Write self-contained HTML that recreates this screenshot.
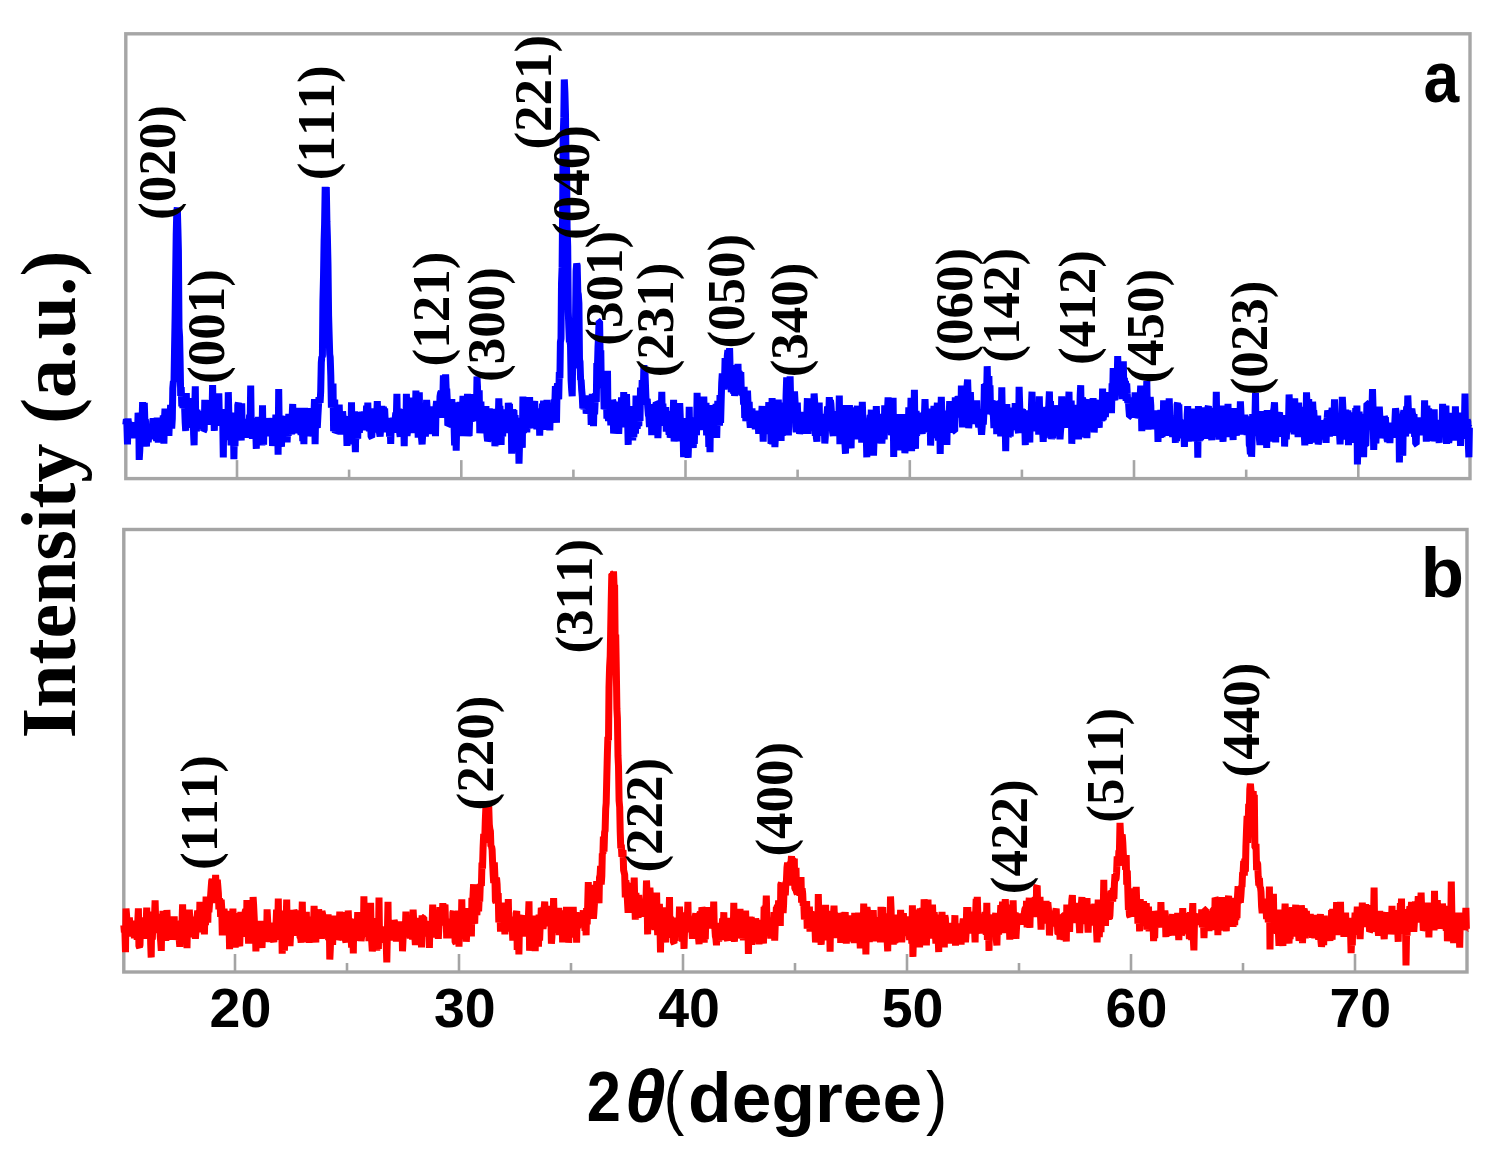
<!DOCTYPE html>
<html><head><meta charset="utf-8"><title>XRD patterns</title>
<style>html,body{margin:0;padding:0;background:#fff;width:1495px;height:1151px;overflow:hidden}svg{display:block;filter:blur(0.5px)}text{font-kerning:none;font-feature-settings:"kern" 0}</style>
</head><body>
<svg width="1495" height="1151" viewBox="0 0 1495 1151">
<style>.pl{font-kerning:none;font-feature-settings:"kern" 0;font-family:"Liberation Serif",serif;font-weight:bold;font-size:53.0px;fill:#000}</style>
<rect width="100%" height="100%" fill="#fff"/>
<rect x="125.8" y="33.8" width="1344.2" height="444.8" fill="none" stroke="#a6a6a6" stroke-width="3.4"/>
<line x1="237.0" y1="478.6" x2="237.0" y2="460.1" stroke="#a6a6a6" stroke-width="2.6"/>
<line x1="349.1" y1="478.6" x2="349.1" y2="469.6" stroke="#a6a6a6" stroke-width="2.6"/>
<line x1="461.3" y1="478.6" x2="461.3" y2="460.1" stroke="#a6a6a6" stroke-width="2.6"/>
<line x1="573.4" y1="478.6" x2="573.4" y2="469.6" stroke="#a6a6a6" stroke-width="2.6"/>
<line x1="685.5" y1="478.6" x2="685.5" y2="460.1" stroke="#a6a6a6" stroke-width="2.6"/>
<line x1="797.6" y1="478.6" x2="797.6" y2="469.6" stroke="#a6a6a6" stroke-width="2.6"/>
<line x1="909.8" y1="478.6" x2="909.8" y2="460.1" stroke="#a6a6a6" stroke-width="2.6"/>
<line x1="1021.9" y1="478.6" x2="1021.9" y2="469.6" stroke="#a6a6a6" stroke-width="2.6"/>
<line x1="1134.0" y1="478.6" x2="1134.0" y2="460.1" stroke="#a6a6a6" stroke-width="2.6"/>
<line x1="1246.2" y1="478.6" x2="1246.2" y2="469.6" stroke="#a6a6a6" stroke-width="2.6"/>
<line x1="1358.3" y1="478.6" x2="1358.3" y2="460.1" stroke="#a6a6a6" stroke-width="2.6"/>
<rect x="123.8" y="529.5" width="1343.2" height="442.5" fill="none" stroke="#a4a4a4" stroke-width="3.4"/>
<line x1="235.0" y1="972.0" x2="235.0" y2="954.0" stroke="#a4a4a4" stroke-width="2.6"/>
<line x1="347.0" y1="972.0" x2="347.0" y2="963.0" stroke="#a4a4a4" stroke-width="2.6"/>
<line x1="459.0" y1="972.0" x2="459.0" y2="954.0" stroke="#a4a4a4" stroke-width="2.6"/>
<line x1="571.0" y1="972.0" x2="571.0" y2="963.0" stroke="#a4a4a4" stroke-width="2.6"/>
<line x1="683.0" y1="972.0" x2="683.0" y2="954.0" stroke="#a4a4a4" stroke-width="2.6"/>
<line x1="795.0" y1="972.0" x2="795.0" y2="963.0" stroke="#a4a4a4" stroke-width="2.6"/>
<line x1="907.0" y1="972.0" x2="907.0" y2="954.0" stroke="#a4a4a4" stroke-width="2.6"/>
<line x1="1019.0" y1="972.0" x2="1019.0" y2="963.0" stroke="#a4a4a4" stroke-width="2.6"/>
<line x1="1131.0" y1="972.0" x2="1131.0" y2="954.0" stroke="#a4a4a4" stroke-width="2.6"/>
<line x1="1243.0" y1="972.0" x2="1243.0" y2="963.0" stroke="#a4a4a4" stroke-width="2.6"/>
<line x1="1355.0" y1="972.0" x2="1355.0" y2="954.0" stroke="#a4a4a4" stroke-width="2.6"/>
<path d="M125.8 424.7L126.4 419.2L126.9 425.1L127.5 444.5L128.0 418.6L128.6 424.1L129.2 435.8L129.7 422.6L130.3 425.2L130.8 426.1L131.4 429.2L132.0 423.1L132.5 438.2L133.1 431.3L133.6 435.0L134.2 422.2L134.8 428.7L135.3 432.4L135.9 438.1L136.4 431.7L137.0 428.4L137.6 431.6L138.1 412.9L138.7 416.1L139.2 459.9L139.8 450.0L140.4 429.6L140.9 432.4L141.5 424.8L142.0 424.6L142.6 402.1L143.2 440.2L143.7 431.5L144.3 402.9L144.8 419.4L145.4 419.3L146.0 433.2L146.5 446.7L147.1 425.4L147.6 426.2L148.2 442.2L148.8 435.9L149.3 428.8L149.9 439.3L150.4 429.5L151.0 427.3L151.6 428.2L152.1 434.7L152.7 421.8L153.2 418.4L153.8 425.1L154.4 438.6L154.9 420.2L155.5 434.7L156.0 418.3L156.6 441.2L157.2 417.6L157.7 428.4L158.3 442.7L158.8 431.3L159.4 426.7L160.0 423.8L160.5 438.2L161.1 439.3L161.6 423.5L162.2 430.9L162.8 422.2L163.3 415.6L163.9 443.6L164.4 420.6L165.0 408.7L165.6 426.1L166.1 431.6L166.7 412.6L167.2 417.8L167.8 409.5L168.4 423.4L168.9 435.8L169.5 418.5L170.0 421.1L170.6 405.0L171.2 409.8L171.7 428.4L172.3 419.1L172.8 388.3L173.4 381.0L174.0 381.7L174.5 352.2L175.1 317.0L175.6 279.6L176.2 235.2L176.8 211.4L177.3 207.5L177.9 229.1L178.4 250.0L179.0 328.0L179.6 336.8L180.1 360.7L180.7 396.0L181.2 387.2L181.8 406.4L182.4 393.3L182.9 408.1L183.5 400.9L184.0 396.0L184.6 407.0L185.2 422.8L185.7 431.0L186.3 393.0L186.8 415.4L187.4 422.6L188.0 413.0L188.5 417.2L189.1 405.1L189.6 414.9L190.2 415.3L190.8 424.0L191.3 410.1L191.9 428.0L192.4 408.0L193.0 398.0L193.6 434.1L194.1 445.3L194.7 409.0L195.3 386.3L195.8 428.3L196.4 431.3L196.9 409.7L197.5 426.7L198.1 422.9L198.6 421.1L199.2 410.9L199.7 422.0L200.3 414.0L200.9 419.5L201.4 427.4L202.0 421.3L202.5 428.7L203.1 417.4L203.7 430.7L204.2 430.2L204.8 399.9L205.3 417.4L205.9 417.1L206.5 409.9L207.0 420.3L207.6 417.2L208.1 408.6L208.7 409.2L209.3 424.9L209.8 400.1L210.4 415.5L210.9 419.6L211.5 416.5L212.1 409.5L212.6 385.1L213.2 418.1L213.7 402.8L214.3 430.9L214.9 407.0L215.4 397.8L216.0 412.8L216.5 418.9L217.1 410.2L217.7 406.1L218.2 407.8L218.8 393.4L219.3 415.2L219.9 425.6L220.5 420.9L221.0 421.0L221.6 419.5L222.1 421.8L222.7 419.9L223.3 457.5L223.8 413.2L224.4 430.3L224.9 437.8L225.5 416.8L226.1 409.2L226.6 419.3L227.2 423.6L227.7 436.8L228.3 392.2L228.9 415.9L229.4 440.0L230.0 436.0L230.5 425.9L231.1 445.4L231.7 425.2L232.2 432.7L232.8 412.8L233.3 415.9L233.9 459.3L234.5 426.8L235.0 446.3L235.6 414.0L236.1 425.1L236.7 420.5L237.3 439.4L237.8 405.1L238.4 402.7L238.9 438.9L239.5 421.8L240.1 433.9L240.6 426.1L241.2 440.5L241.7 403.4L242.3 436.6L242.9 428.5L243.4 418.9L244.0 432.3L244.5 427.3L245.1 430.9L245.7 425.7L246.2 437.8L246.8 429.0L247.3 426.1L247.9 427.5L248.5 422.9L249.0 426.9L249.6 414.6L250.1 427.3L250.7 385.5L251.3 431.4L251.8 429.9L252.4 438.7L252.9 417.8L253.5 437.5L254.1 433.0L254.6 420.2L255.2 419.8L255.7 429.5L256.3 448.8L256.9 420.3L257.4 422.4L258.0 442.3L258.5 416.7L259.1 434.2L259.7 439.4L260.2 425.1L260.8 428.5L261.3 424.1L261.9 445.5L262.5 405.2L263.0 433.7L263.6 444.8L264.1 419.3L264.7 430.7L265.3 422.6L265.8 430.4L266.4 427.0L266.9 423.3L267.5 434.9L268.1 418.0L268.6 431.4L269.2 436.0L269.7 424.7L270.3 420.3L270.9 428.2L271.4 435.6L272.0 418.0L272.5 446.0L273.1 437.4L273.7 424.8L274.2 441.3L274.8 424.9L275.3 425.9L275.9 414.7L276.5 436.2L277.0 432.8L277.6 421.6L278.1 454.6L278.7 389.1L279.3 434.0L279.8 434.4L280.4 415.7L280.9 426.4L281.5 446.9L282.1 418.6L282.6 415.9L283.2 431.3L283.7 429.3L284.3 420.3L284.9 436.7L285.4 420.8L286.0 423.6L286.5 433.8L287.1 442.3L287.7 428.4L288.2 436.0L288.8 413.8L289.3 423.8L289.9 416.2L290.5 423.8L291.0 422.2L291.6 434.5L292.1 417.3L292.7 404.0L293.3 428.7L293.8 432.0L294.4 426.8L294.9 430.5L295.5 433.1L296.1 423.2L296.6 428.2L297.2 407.8L297.7 424.8L298.3 420.9L298.9 413.5L299.4 428.3L300.0 407.8L300.5 432.2L301.1 434.2L301.7 429.0L302.2 426.0L302.8 441.1L303.3 424.9L303.9 444.1L304.5 407.9L305.0 425.2L305.6 431.7L306.1 434.7L306.7 428.3L307.3 426.2L307.8 435.7L308.4 434.0L308.9 425.1L309.5 428.7L310.1 411.1L310.6 408.4L311.2 421.3L311.7 415.4L312.3 436.3L312.9 412.5L313.4 419.8L314.0 413.0L314.5 399.1L315.1 444.1L315.7 413.1L316.2 428.1L316.8 406.8L317.3 427.7L317.9 416.0L318.5 405.3L319.0 397.1L319.6 398.9L320.1 402.9L320.7 391.3L321.3 362.5L321.8 357.1L322.4 356.5L322.9 301.5L323.5 277.2L324.1 240.2L324.6 224.0L325.2 186.9L325.7 199.3L326.3 187.1L326.9 221.2L327.4 237.2L328.0 265.2L328.6 315.8L329.1 333.8L329.7 354.2L330.2 357.4L330.8 375.7L331.4 407.8L331.9 394.7L332.5 396.2L333.0 383.6L333.6 431.2L334.2 419.8L334.7 399.5L335.3 432.7L335.8 432.0L336.4 412.8L337.0 407.8L337.5 428.5L338.1 415.0L338.6 420.6L339.2 404.6L339.8 423.0L340.3 411.8L340.9 434.5L341.4 426.4L342.0 425.6L342.6 411.3L343.1 418.1L343.7 434.1L344.2 417.3L344.8 416.4L345.4 426.9L345.9 428.7L346.5 428.0L347.0 445.8L347.6 423.6L348.2 423.0L348.7 436.0L349.3 417.0L349.8 441.9L350.4 432.2L351.0 431.3L351.5 402.2L352.1 444.5L352.6 418.9L353.2 414.3L353.8 420.9L354.3 411.4L354.9 437.1L355.4 452.1L356.0 416.0L356.6 439.1L357.1 428.8L357.7 438.7L358.2 412.3L358.8 414.3L359.4 432.9L359.9 413.6L360.5 422.7L361.0 425.7L361.6 423.2L362.2 426.1L362.7 416.4L363.3 419.8L363.8 427.5L364.4 411.4L365.0 430.4L365.5 419.8L366.1 418.1L366.6 405.6L367.2 429.1L367.8 402.6L368.3 421.1L368.9 425.6L369.4 431.3L370.0 416.6L370.6 423.1L371.1 436.8L371.7 437.3L372.2 430.8L372.8 432.4L373.4 411.8L373.9 408.7L374.5 414.9L375.0 421.2L375.6 430.7L376.2 425.3L376.7 415.7L377.3 401.2L377.8 415.8L378.4 430.1L379.0 426.5L379.5 432.8L380.1 436.5L380.6 429.5L381.2 425.1L381.8 405.9L382.3 426.9L382.9 411.6L383.4 406.7L384.0 426.6L384.6 408.5L385.1 419.0L385.7 432.2L386.2 424.0L386.8 426.8L387.4 429.6L387.9 429.1L388.5 424.9L389.0 421.3L389.6 436.7L390.2 426.2L390.7 443.8L391.3 422.6L391.8 418.2L392.4 423.4L393.0 421.8L393.5 418.0L394.1 432.7L394.6 427.5L395.2 418.5L395.8 412.5L396.3 419.5L396.9 393.8L397.4 424.9L398.0 411.8L398.6 408.5L399.1 424.8L399.7 432.7L400.2 436.7L400.8 420.6L401.4 409.2L401.9 418.8L402.5 419.7L403.0 425.9L403.6 414.6L404.2 446.1L404.7 417.8L405.3 419.9L405.8 436.1L406.4 393.9L407.0 435.7L407.5 431.7L408.1 432.9L408.6 405.3L409.2 428.7L409.8 410.1L410.3 410.8L410.9 414.6L411.4 432.9L412.0 424.6L412.6 397.6L413.1 432.5L413.7 427.2L414.2 419.3L414.8 408.0L415.4 414.7L415.9 390.5L416.5 430.6L417.0 407.1L417.6 411.8L418.2 437.6L418.7 400.9L419.3 392.3L419.8 428.7L420.4 419.3L421.0 403.7L421.5 438.0L422.1 444.3L422.6 436.3L423.2 427.9L423.8 428.3L424.3 414.4L424.9 418.6L425.4 436.6L426.0 415.3L426.6 399.9L427.1 407.9L427.7 410.4L428.2 421.8L428.8 410.4L429.4 433.4L429.9 413.0L430.5 422.8L431.0 408.3L431.6 415.9L432.2 434.1L432.7 419.4L433.3 406.2L433.8 433.5L434.4 426.3L435.0 428.2L435.5 436.1L436.1 406.2L436.6 401.1L437.2 406.0L437.8 411.2L438.3 413.2L438.9 408.1L439.4 417.8L440.0 396.6L440.6 392.8L441.1 392.1L441.7 407.3L442.2 398.3L442.8 399.6L443.4 375.4L443.9 393.6L444.5 417.8L445.0 391.2L445.6 374.5L446.2 389.7L446.7 388.8L447.3 400.2L447.8 425.4L448.4 424.9L449.0 419.6L449.5 407.7L450.1 403.8L450.6 400.4L451.2 413.5L451.8 399.0L452.3 414.4L452.9 420.0L453.4 402.3L454.0 423.6L454.6 445.5L455.1 426.2L455.7 413.0L456.2 450.8L456.8 419.0L457.4 419.1L457.9 432.3L458.5 433.3L459.0 421.6L459.6 422.9L460.2 401.9L460.7 412.6L461.3 436.0L461.9 427.8L462.4 409.7L463.0 395.9L463.5 414.0L464.1 415.1L464.7 397.1L465.2 419.5L465.8 423.1L466.3 436.2L466.9 425.7L467.5 393.9L468.0 436.3L468.6 419.3L469.1 435.8L469.7 417.3L470.3 407.9L470.8 420.7L471.4 408.5L471.9 407.8L472.5 410.2L473.1 394.2L473.6 404.2L474.2 416.0L474.7 419.4L475.3 420.3L475.9 404.0L476.4 412.8L477.0 376.5L477.5 387.0L478.1 411.5L478.7 413.4L479.2 390.3L479.8 433.3L480.3 417.3L480.9 401.7L481.5 424.6L482.0 420.3L482.6 419.7L483.1 408.5L483.7 415.4L484.3 412.9L484.8 411.1L485.4 418.3L485.9 406.0L486.5 428.0L487.1 436.7L487.6 441.0L488.2 439.4L488.7 426.9L489.3 408.4L489.9 418.6L490.4 427.8L491.0 433.4L491.5 427.1L492.1 425.6L492.7 427.5L493.2 437.7L493.8 426.4L494.3 408.7L494.9 446.3L495.5 423.4L496.0 445.4L496.6 418.1L497.1 429.0L497.7 444.7L498.3 418.8L498.8 398.4L499.4 418.5L499.9 406.0L500.5 420.4L501.1 445.0L501.6 413.7L502.2 424.4L502.7 436.7L503.3 410.2L503.9 416.1L504.4 425.7L505.0 409.3L505.5 430.0L506.1 412.2L506.7 431.0L507.2 413.7L507.8 433.1L508.3 402.7L508.9 417.5L509.5 403.7L510.0 430.5L510.6 426.6L511.1 411.2L511.7 453.6L512.3 434.0L512.8 409.3L513.4 416.2L513.9 410.2L514.5 425.5L515.1 415.2L515.6 430.5L516.2 438.1L516.7 441.9L517.3 428.4L517.9 428.3L518.4 429.2L519.0 463.6L519.5 445.1L520.1 427.7L520.7 417.9L521.2 427.9L521.8 431.2L522.3 447.9L522.9 396.6L523.5 433.2L524.0 400.1L524.6 401.3L525.1 416.2L525.7 426.0L526.3 417.4L526.8 432.3L527.4 415.4L527.9 418.2L528.5 411.7L529.1 406.6L529.6 397.1L530.2 421.9L530.7 404.9L531.3 426.3L531.9 427.4L532.4 423.9L533.0 428.0L533.5 404.7L534.1 405.3L534.7 401.0L535.2 416.2L535.8 412.5L536.3 422.5L536.9 429.1L537.5 410.2L538.0 412.2L538.6 428.3L539.1 408.3L539.7 435.6L540.3 417.1L540.8 422.4L541.4 421.1L541.9 427.6L542.5 403.5L543.1 408.0L543.6 400.7L544.2 413.0L544.7 429.8L545.3 418.9L545.9 428.4L546.4 408.9L547.0 399.9L547.5 410.2L548.1 421.0L548.7 418.1L549.2 411.1L549.8 430.3L550.3 411.2L550.9 410.3L551.5 418.6L552.0 416.6L552.6 409.1L553.1 420.1L553.7 419.3L554.3 399.3L554.8 404.7L555.4 386.0L555.9 415.6L556.5 422.6L557.1 387.5L557.6 383.4L558.2 398.0L558.7 399.2L559.3 372.2L559.9 378.1L560.4 342.2L561.0 338.6L561.5 283.7L562.1 267.4L562.7 201.7L563.2 136.2L563.8 117.4L564.3 79.5L564.9 92.4L565.5 114.8L566.0 157.8L566.6 171.1L567.1 227.3L567.7 246.4L568.3 312.0L568.8 326.6L569.4 342.4L569.9 340.6L570.5 345.3L571.1 380.3L571.6 388.9L572.2 396.1L572.7 357.2L573.3 367.9L573.9 364.5L574.4 343.1L575.0 354.2L575.5 323.0L576.1 271.0L576.7 263.5L577.2 265.6L577.8 292.1L578.3 294.5L578.9 303.3L579.5 359.5L580.0 361.7L580.6 379.9L581.1 379.7L581.7 390.2L582.3 396.6L582.8 408.4L583.4 400.5L583.9 409.3L584.5 405.3L585.1 405.5L585.6 398.1L586.2 413.6L586.7 411.3L587.3 395.5L587.9 411.3L588.4 412.3L589.0 399.4L589.5 406.7L590.1 409.0L590.7 407.6L591.2 424.8L591.8 404.5L592.3 393.9L592.9 402.0L593.5 426.1L594.0 402.7L594.6 414.3L595.1 402.6L595.7 393.3L596.3 401.9L596.8 363.1L597.4 368.9L598.0 347.0L598.5 337.7L599.1 321.5L599.6 321.6L600.2 358.2L600.8 350.4L601.3 388.1L601.9 379.9L602.4 376.5L603.0 382.6L603.6 384.6L604.1 409.1L604.7 404.3L605.2 409.4L605.8 397.3L606.4 394.8L606.9 418.8L607.5 370.7L608.0 416.0L608.6 420.8L609.2 409.9L609.7 408.4L610.3 411.2L610.8 425.5L611.4 400.6L612.0 417.5L612.5 400.1L613.1 401.9L613.6 433.4L614.2 429.9L614.8 430.1L615.3 415.4L615.9 417.6L616.4 415.0L617.0 427.8L617.6 413.1L618.1 401.5L618.7 433.8L619.2 420.3L619.8 415.1L620.4 419.6L620.9 420.4L621.5 397.3L622.0 403.1L622.6 408.3L623.2 427.4L623.7 392.1L624.3 414.4L624.8 425.6L625.4 422.9L626.0 424.8L626.5 394.1L627.1 416.9L627.6 418.6L628.2 444.9L628.8 410.9L629.3 432.1L629.9 433.0L630.4 412.4L631.0 429.8L631.6 409.8L632.1 406.3L632.7 440.5L633.2 420.8L633.8 437.5L634.4 419.3L634.9 407.4L635.5 433.7L636.0 395.6L636.6 419.7L637.2 428.8L637.7 415.0L638.3 402.5L638.8 426.1L639.4 407.4L640.0 421.0L640.5 387.6L641.1 396.8L641.6 400.5L642.2 380.1L642.8 404.9L643.3 392.4L643.9 365.1L644.4 388.6L645.0 372.6L645.6 388.6L646.1 402.0L646.7 399.7L647.2 398.9L647.8 407.6L648.4 415.1L648.9 416.8L649.5 427.0L650.0 409.7L650.6 407.6L651.2 404.3L651.7 435.1L652.3 404.8L652.8 414.7L653.4 431.5L654.0 413.5L654.5 405.0L655.1 408.3L655.6 405.7L656.2 403.0L656.8 403.4L657.3 414.2L657.9 438.2L658.4 422.5L659.0 409.3L659.6 419.0L660.1 405.4L660.7 404.2L661.2 413.2L661.8 391.8L662.4 425.8L662.9 403.7L663.5 420.6L664.0 424.8L664.6 409.1L665.2 423.9L665.7 407.2L666.3 431.7L666.8 418.2L667.4 429.3L668.0 422.9L668.5 425.2L669.1 434.9L669.6 414.6L670.2 437.7L670.8 435.3L671.3 413.9L671.9 413.5L672.4 417.7L673.0 422.1L673.6 399.8L674.1 441.4L674.7 436.3L675.2 439.6L675.8 417.6L676.4 425.1L676.9 415.6L677.5 417.4L678.0 431.6L678.6 438.8L679.2 440.9L679.7 403.1L680.3 417.8L680.8 422.2L681.4 433.2L682.0 431.4L682.5 433.1L683.1 432.8L683.6 457.2L684.2 429.5L684.8 433.1L685.3 425.1L685.9 425.9L686.4 418.1L687.0 428.2L687.6 418.4L688.1 457.9L688.7 440.4L689.2 406.8L689.8 441.3L690.4 430.0L690.9 418.1L691.5 436.5L692.0 417.3L692.6 442.4L693.2 447.8L693.7 440.5L694.3 444.0L694.8 424.4L695.4 427.6L696.0 419.7L696.5 435.4L697.1 392.9L697.6 423.8L698.2 422.9L698.8 416.7L699.3 424.7L699.9 429.0L700.4 420.4L701.0 410.3L701.6 413.1L702.1 409.7L702.7 427.3L703.2 429.6L703.8 396.6L704.4 422.9L704.9 414.3L705.5 411.1L706.0 402.9L706.6 435.4L707.2 424.9L707.7 424.1L708.3 422.3L708.8 447.0L709.4 419.4L710.0 452.1L710.5 414.2L711.1 411.0L711.6 410.0L712.2 430.9L712.8 405.1L713.3 426.1L713.9 430.0L714.4 426.7L715.0 424.7L715.6 412.1L716.1 403.9L716.7 437.8L717.2 418.7L717.8 400.9L718.4 408.2L718.9 403.5L719.5 425.8L720.0 395.1L720.6 422.8L721.2 399.6L721.7 382.9L722.3 373.4L722.8 385.6L723.4 376.8L724.0 389.5L724.5 382.8L725.1 358.0L725.6 366.7L726.2 363.9L726.8 375.8L727.3 355.8L727.9 350.2L728.4 369.0L729.0 368.8L729.6 348.1L730.1 368.9L730.7 378.5L731.3 392.2L731.8 389.2L732.4 387.2L732.9 369.6L733.5 393.6L734.1 365.0L734.6 396.0L735.2 387.4L735.7 370.6L736.3 380.3L736.9 384.0L737.4 372.9L738.0 363.9L738.5 388.7L739.1 372.4L739.7 373.4L740.2 380.8L740.8 372.0L741.3 392.2L741.9 394.5L742.5 394.1L743.0 389.8L743.6 404.5L744.1 386.9L744.7 418.0L745.3 394.2L745.8 421.2L746.4 414.5L746.9 409.5L747.5 390.6L748.1 405.2L748.6 421.3L749.2 401.9L749.7 420.4L750.3 427.7L750.9 413.6L751.4 418.2L752.0 408.4L752.5 426.5L753.1 415.8L753.7 413.0L754.2 417.4L754.8 421.2L755.3 429.2L755.9 410.5L756.5 419.6L757.0 415.5L757.6 425.6L758.1 421.3L758.7 433.8L759.3 420.6L759.8 412.7L760.4 420.7L760.9 411.7L761.5 418.3L762.1 406.0L762.6 424.4L763.2 441.6L763.7 417.2L764.3 424.4L764.9 434.0L765.4 414.9L766.0 419.6L766.5 417.6L767.1 426.8L767.7 420.7L768.2 420.1L768.8 402.2L769.3 431.3L769.9 423.4L770.5 419.1L771.0 443.8L771.6 442.4L772.1 398.0L772.7 444.5L773.3 416.9L773.8 433.7L774.4 432.8L774.9 447.2L775.5 434.4L776.1 414.5L776.6 440.1L777.2 416.6L777.7 419.9L778.3 399.6L778.9 428.7L779.4 407.9L780.0 411.9L780.5 425.3L781.1 440.9L781.7 402.7L782.2 435.7L782.8 424.1L783.3 406.9L783.9 402.7L784.5 424.3L785.0 413.0L785.6 413.8L786.1 394.9L786.7 377.3L787.3 426.5L787.8 392.4L788.4 435.4L788.9 400.5L789.5 413.1L790.1 376.4L790.6 398.3L791.2 409.8L791.7 408.2L792.3 410.5L792.9 403.0L793.4 408.6L794.0 400.5L794.5 391.4L795.1 402.6L795.7 426.6L796.2 432.3L796.8 423.0L797.3 402.5L797.9 419.6L798.5 424.1L799.0 415.1L799.6 433.9L800.1 431.0L800.7 411.9L801.3 421.8L801.8 423.8L802.4 414.9L802.9 425.8L803.5 427.2L804.1 424.7L804.6 412.3L805.2 418.9L805.7 433.9L806.3 423.5L806.9 412.5L807.4 398.2L808.0 433.9L808.5 416.6L809.1 423.8L809.7 411.2L810.2 415.7L810.8 403.8L811.3 415.2L811.9 427.9L812.5 427.9L813.0 416.9L813.6 417.1L814.1 393.6L814.7 402.2L815.3 435.9L815.8 417.9L816.4 437.8L816.9 441.6L817.5 413.3L818.1 415.5L818.6 434.2L819.2 402.5L819.7 433.4L820.3 435.5L820.9 414.0L821.4 419.0L822.0 423.4L822.5 422.2L823.1 418.7L823.7 422.9L824.2 423.2L824.8 443.5L825.3 436.9L825.9 413.9L826.5 429.4L827.0 414.7L827.6 406.6L828.1 425.5L828.7 418.0L829.3 397.0L829.8 413.4L830.4 400.1L830.9 403.9L831.5 413.3L832.1 423.7L832.6 432.5L833.2 435.9L833.7 417.3L834.3 417.7L834.9 425.5L835.4 413.7L836.0 431.0L836.5 411.0L837.1 423.8L837.7 424.9L838.2 424.7L838.8 426.0L839.3 395.6L839.9 444.1L840.5 423.1L841.0 410.6L841.6 417.0L842.1 429.1L842.7 405.0L843.3 438.2L843.8 441.1L844.4 419.0L844.9 442.9L845.5 453.8L846.1 415.3L846.6 416.7L847.2 417.0L847.7 431.4L848.3 423.4L848.9 437.0L849.4 405.1L850.0 416.2L850.5 416.7L851.1 448.4L851.7 415.8L852.2 407.7L852.8 411.0L853.3 416.0L853.9 425.3L854.5 429.3L855.0 418.2L855.6 420.8L856.1 422.6L856.7 429.1L857.3 405.7L857.8 439.4L858.4 425.9L858.9 432.6L859.5 413.7L860.1 409.1L860.6 411.4L861.2 417.2L861.7 442.8L862.3 401.8L862.9 420.4L863.4 427.8L864.0 426.4L864.5 430.7L865.1 421.8L865.7 423.2L866.2 431.2L866.8 457.3L867.4 427.4L867.9 421.4L868.5 420.9L869.0 428.9L869.6 421.8L870.2 415.0L870.7 432.6L871.3 409.7L871.8 450.1L872.4 441.8L873.0 437.6L873.5 455.7L874.1 438.5L874.6 411.9L875.2 411.9L875.8 425.3L876.3 406.1L876.9 423.5L877.4 432.1L878.0 423.2L878.6 427.6L879.1 417.2L879.7 443.5L880.2 413.9L880.8 431.0L881.4 415.4L881.9 443.6L882.5 430.2L883.0 424.3L883.6 414.5L884.2 439.4L884.7 405.3L885.3 419.2L885.8 431.1L886.4 410.5L887.0 423.6L887.5 411.1L888.1 397.4L888.6 415.7L889.2 431.1L889.8 429.9L890.3 418.1L890.9 421.6L891.4 435.0L892.0 433.2L892.6 417.6L893.1 397.9L893.7 456.9L894.2 417.5L894.8 428.8L895.4 417.3L895.9 416.6L896.5 426.5L897.0 439.4L897.6 444.2L898.2 450.2L898.7 414.0L899.3 431.2L899.8 435.4L900.4 432.6L901.0 445.4L901.5 426.2L902.1 414.4L902.6 416.8L903.2 448.8L903.8 414.4L904.3 439.6L904.9 453.2L905.4 445.1L906.0 442.0L906.6 430.6L907.1 442.6L907.7 448.2L908.2 433.3L908.8 407.3L909.4 438.1L909.9 424.1L910.5 428.4L911.0 397.7L911.6 451.2L912.2 415.6L912.7 443.4L913.3 434.9L913.8 428.8L914.4 389.7L915.0 436.0L915.5 448.9L916.1 410.9L916.6 435.8L917.2 428.3L917.8 425.4L918.3 423.5L918.9 426.2L919.4 420.6L920.0 418.7L920.6 412.7L921.1 427.4L921.7 430.7L922.2 433.9L922.8 413.8L923.4 420.9L923.9 413.3L924.5 413.0L925.0 399.0L925.6 416.0L926.2 409.2L926.7 431.9L927.3 430.2L927.8 420.8L928.4 431.3L929.0 408.6L929.5 432.3L930.1 415.7L930.6 445.5L931.2 429.6L931.8 420.6L932.3 419.9L932.9 438.1L933.4 416.0L934.0 406.0L934.6 410.2L935.1 426.0L935.7 425.5L936.2 433.0L936.8 412.0L937.4 402.8L937.9 426.5L938.5 440.7L939.0 418.7L939.6 413.1L940.2 453.9L940.7 420.5L941.3 396.8L941.8 412.9L942.4 416.3L943.0 418.2L943.5 410.5L944.1 434.1L944.6 433.0L945.2 418.1L945.8 430.8L946.3 419.5L946.9 444.9L947.4 413.0L948.0 411.6L948.6 420.7L949.1 418.8L949.7 401.1L950.2 432.4L950.8 429.8L951.4 431.2L951.9 422.6L952.5 428.7L953.0 415.5L953.6 422.6L954.2 431.0L954.7 431.1L955.3 397.3L955.8 411.2L956.4 411.8L957.0 407.5L957.5 407.5L958.1 396.3L958.6 397.5L959.2 410.1L959.8 412.1L960.3 414.7L960.9 416.6L961.4 385.5L962.0 413.4L962.6 427.3L963.1 414.4L963.7 414.9L964.2 402.8L964.8 418.4L965.4 402.8L965.9 405.6L966.5 396.3L967.0 386.6L967.6 379.5L968.2 397.9L968.7 428.3L969.3 420.0L969.8 413.0L970.4 392.0L971.0 408.9L971.5 403.2L972.1 419.9L972.6 411.2L973.2 410.1L973.8 424.2L974.3 410.0L974.9 406.7L975.4 421.4L976.0 407.7L976.6 400.4L977.1 419.2L977.7 420.0L978.2 423.6L978.8 427.1L979.4 417.7L979.9 424.0L980.5 422.3L981.0 427.0L981.6 434.8L982.2 426.2L982.7 409.3L983.3 424.5L983.8 414.9L984.4 384.1L985.0 385.8L985.5 402.7L986.1 383.2L986.6 394.6L987.2 366.2L987.8 392.9L988.3 387.6L988.9 376.0L989.4 406.4L990.0 385.4L990.6 414.3L991.1 405.0L991.7 414.0L992.2 413.6L992.8 412.3L993.4 416.2L993.9 428.2L994.5 406.7L995.0 408.9L995.6 402.6L996.2 401.8L996.7 434.2L997.3 403.5L997.8 403.6L998.4 425.4L999.0 407.1L999.5 402.2L1000.1 426.1L1000.7 436.2L1001.2 424.4L1001.8 387.3L1002.3 417.7L1002.9 434.9L1003.5 423.7L1004.0 432.5L1004.6 425.6L1005.1 419.8L1005.7 451.1L1006.3 416.6L1006.8 404.1L1007.4 423.0L1007.9 425.1L1008.5 407.5L1009.1 435.2L1009.6 434.8L1010.2 436.3L1010.7 421.5L1011.3 414.8L1011.9 420.2L1012.4 412.5L1013.0 408.9L1013.5 412.6L1014.1 427.8L1014.7 421.2L1015.2 403.2L1015.8 430.1L1016.3 420.5L1016.9 422.3L1017.5 419.4L1018.0 429.8L1018.6 433.0L1019.1 386.8L1019.7 405.7L1020.3 425.2L1020.8 417.4L1021.4 408.6L1021.9 420.6L1022.5 409.2L1023.1 423.7L1023.6 420.6L1024.2 417.4L1024.7 421.7L1025.3 445.2L1025.9 416.0L1026.4 413.2L1027.0 410.6L1027.5 428.0L1028.1 412.2L1028.7 413.7L1029.2 437.2L1029.8 442.4L1030.3 410.9L1030.9 427.9L1031.5 404.9L1032.0 391.7L1032.6 424.0L1033.1 425.5L1033.7 417.7L1034.3 409.9L1034.8 431.5L1035.4 403.7L1035.9 407.1L1036.5 411.3L1037.1 425.8L1037.6 409.0L1038.2 410.0L1038.7 434.7L1039.3 396.2L1039.9 424.7L1040.4 417.1L1041.0 427.9L1041.5 417.4L1042.1 408.4L1042.7 431.8L1043.2 441.9L1043.8 427.8L1044.3 437.9L1044.9 431.5L1045.5 424.0L1046.0 423.1L1046.6 407.0L1047.1 434.1L1047.7 417.8L1048.3 427.7L1048.8 405.4L1049.4 391.5L1049.9 417.4L1050.5 401.0L1051.1 426.7L1051.6 439.1L1052.2 434.9L1052.7 438.3L1053.3 430.6L1053.9 421.9L1054.4 405.3L1055.0 410.3L1055.5 412.9L1056.1 423.1L1056.7 426.4L1057.2 417.3L1057.8 415.8L1058.3 414.2L1058.9 412.7L1059.5 418.3L1060.0 439.4L1060.6 429.7L1061.1 426.2L1061.7 396.3L1062.3 421.2L1062.8 408.1L1063.4 398.7L1063.9 412.0L1064.5 420.5L1065.1 419.2L1065.6 427.7L1066.2 412.0L1066.7 402.3L1067.3 408.8L1067.9 406.4L1068.4 406.9L1069.0 391.7L1069.5 422.8L1070.1 413.4L1070.7 406.9L1071.2 400.5L1071.8 443.8L1072.3 421.2L1072.9 417.5L1073.5 427.1L1074.0 404.9L1074.6 412.3L1075.1 419.5L1075.7 434.1L1076.3 430.4L1076.8 426.4L1077.4 409.3L1077.9 429.1L1078.5 439.1L1079.1 431.8L1079.6 421.7L1080.2 395.0L1080.7 385.2L1081.3 420.5L1081.9 403.8L1082.4 398.4L1083.0 399.9L1083.5 416.5L1084.1 430.6L1084.7 421.1L1085.2 437.4L1085.8 412.7L1086.3 406.5L1086.9 438.1L1087.5 416.5L1088.0 412.5L1088.6 401.3L1089.1 399.9L1089.7 406.8L1090.3 424.4L1090.8 420.8L1091.4 402.2L1091.9 423.6L1092.5 417.0L1093.1 398.0L1093.6 414.8L1094.2 432.5L1094.7 419.6L1095.3 408.4L1095.9 418.0L1096.4 401.8L1097.0 400.1L1097.5 422.6L1098.1 420.5L1098.7 415.4L1099.2 427.9L1099.8 408.8L1100.3 414.8L1100.9 402.9L1101.5 418.6L1102.0 421.3L1102.6 388.5L1103.1 419.8L1103.7 415.6L1104.3 416.5L1104.8 410.6L1105.4 417.0L1105.9 405.7L1106.5 412.5L1107.1 408.1L1107.6 397.8L1108.2 392.6L1108.7 394.2L1109.3 407.1L1109.9 392.4L1110.4 397.1L1111.0 395.5L1111.5 413.1L1112.1 383.4L1112.7 391.4L1113.2 368.1L1113.8 379.2L1114.3 398.5L1114.9 400.3L1115.5 369.3L1116.0 392.3L1116.6 373.2L1117.1 384.5L1117.7 356.0L1118.3 380.1L1118.8 363.7L1119.4 366.6L1119.9 388.9L1120.5 388.5L1121.1 368.4L1121.6 387.3L1122.2 399.0L1122.7 376.0L1123.3 361.3L1123.9 393.5L1124.4 377.8L1125.0 397.5L1125.5 380.8L1126.1 400.8L1126.7 383.3L1127.2 393.5L1127.8 403.0L1128.3 398.9L1128.9 408.9L1129.5 416.5L1130.0 416.4L1130.6 405.2L1131.1 417.6L1131.7 400.4L1132.3 399.8L1132.8 400.9L1133.4 412.8L1134.0 406.6L1134.5 407.9L1135.1 392.3L1135.6 417.7L1136.2 413.0L1136.8 411.5L1137.3 410.6L1137.9 417.9L1138.4 416.7L1139.0 397.4L1139.6 417.1L1140.1 398.8L1140.7 385.7L1141.2 394.7L1141.8 431.2L1142.4 400.8L1142.9 404.4L1143.5 403.7L1144.0 429.5L1144.6 401.4L1145.2 423.4L1145.7 395.4L1146.3 398.2L1146.8 381.0L1147.4 415.9L1148.0 429.7L1148.5 399.6L1149.1 402.0L1149.6 417.2L1150.2 397.1L1150.8 405.4L1151.3 429.2L1151.9 418.6L1152.4 420.2L1153.0 416.7L1153.6 413.6L1154.1 424.6L1154.7 419.2L1155.2 410.4L1155.8 418.7L1156.4 421.4L1156.9 422.2L1157.5 420.2L1158.0 442.0L1158.6 417.8L1159.2 432.1L1159.7 419.0L1160.3 437.9L1160.8 409.9L1161.4 418.2L1162.0 437.1L1162.5 418.5L1163.1 430.5L1163.6 400.4L1164.2 416.0L1164.8 431.3L1165.3 419.4L1165.9 422.6L1166.4 408.2L1167.0 418.2L1167.6 416.5L1168.1 435.9L1168.7 413.5L1169.2 398.3L1169.8 415.6L1170.4 423.8L1170.9 421.6L1171.5 435.0L1172.0 421.7L1172.6 437.1L1173.2 423.8L1173.7 429.2L1174.3 434.6L1174.8 418.2L1175.4 442.9L1176.0 426.0L1176.5 441.4L1177.1 404.4L1177.6 402.9L1178.2 416.5L1178.8 404.3L1179.3 419.9L1179.9 420.8L1180.4 432.4L1181.0 438.1L1181.6 426.2L1182.1 434.2L1182.7 433.2L1183.2 419.6L1183.8 429.8L1184.4 446.8L1184.9 431.1L1185.5 437.6L1186.0 432.1L1186.6 441.6L1187.2 414.4L1187.7 406.1L1188.3 441.7L1188.8 420.8L1189.4 421.3L1190.0 441.0L1190.5 427.0L1191.1 411.4L1191.6 417.9L1192.2 408.6L1192.8 441.3L1193.3 436.1L1193.9 423.6L1194.4 422.7L1195.0 426.3L1195.6 430.9L1196.1 430.9L1196.7 433.0L1197.2 420.2L1197.8 457.8L1198.4 406.1L1198.9 430.9L1199.5 441.3L1200.0 417.7L1200.6 440.4L1201.2 419.0L1201.7 428.0L1202.3 416.1L1202.8 413.5L1203.4 407.3L1204.0 428.3L1204.5 425.7L1205.1 422.3L1205.6 438.8L1206.2 415.0L1206.8 420.5L1207.3 437.9L1207.9 407.8L1208.4 406.1L1209.0 437.9L1209.6 415.8L1210.1 408.0L1210.7 413.1L1211.2 434.9L1211.8 440.1L1212.4 425.3L1212.9 430.2L1213.5 424.8L1214.0 426.4L1214.6 419.4L1215.2 432.7L1215.7 428.4L1216.3 391.9L1216.8 428.9L1217.4 419.1L1218.0 424.7L1218.5 425.9L1219.1 439.6L1219.6 422.9L1220.2 430.0L1220.8 419.9L1221.3 405.5L1221.9 427.6L1222.4 420.8L1223.0 441.9L1223.6 428.3L1224.1 411.3L1224.7 430.1L1225.2 436.7L1225.8 426.4L1226.4 430.7L1226.9 431.0L1227.5 432.1L1228.0 403.8L1228.6 437.0L1229.2 431.1L1229.7 432.4L1230.3 410.6L1230.8 428.0L1231.4 408.8L1232.0 421.7L1232.5 423.5L1233.1 440.0L1233.6 408.0L1234.2 415.6L1234.8 416.8L1235.3 422.7L1235.9 426.0L1236.4 435.9L1237.0 409.6L1237.6 417.5L1238.1 424.8L1238.7 428.0L1239.2 419.2L1239.8 421.8L1240.4 401.4L1240.9 411.8L1241.5 428.2L1242.0 434.4L1242.6 424.3L1243.2 432.6L1243.7 421.2L1244.3 417.6L1244.8 415.2L1245.4 418.2L1246.0 425.7L1246.5 416.9L1247.1 435.1L1247.6 426.3L1248.2 417.0L1248.8 424.7L1249.3 445.1L1249.9 446.2L1250.4 454.4L1251.0 416.3L1251.6 456.8L1252.1 439.3L1252.7 414.1L1253.2 420.9L1253.8 416.2L1254.4 436.2L1254.9 420.6L1255.5 392.8L1256.0 428.9L1256.6 423.4L1257.2 431.9L1257.7 428.3L1258.3 423.7L1258.8 411.7L1259.4 438.7L1260.0 444.8L1260.5 427.6L1261.1 425.3L1261.6 411.0L1262.2 419.0L1262.8 434.7L1263.3 420.4L1263.9 413.7L1264.4 423.3L1265.0 430.5L1265.6 418.3L1266.1 430.3L1266.7 447.9L1267.2 410.0L1267.8 440.7L1268.4 429.3L1268.9 428.9L1269.5 428.9L1270.1 428.2L1270.6 441.7L1271.2 418.4L1271.7 424.2L1272.3 424.0L1272.9 411.7L1273.4 411.3L1274.0 408.5L1274.5 402.4L1275.1 418.8L1275.7 442.3L1276.2 421.5L1276.8 423.8L1277.3 423.1L1277.9 430.9L1278.5 434.3L1279.0 414.3L1279.6 412.2L1280.1 436.8L1280.7 417.1L1281.3 425.4L1281.8 427.9L1282.4 415.2L1282.9 423.8L1283.5 429.6L1284.1 422.4L1284.6 446.5L1285.2 429.9L1285.7 428.0L1286.3 439.3L1286.9 420.7L1287.4 419.6L1288.0 429.8L1288.5 424.7L1289.1 394.5L1289.7 410.1L1290.2 431.5L1290.8 418.5L1291.3 410.2L1291.9 422.8L1292.5 431.5L1293.0 431.3L1293.6 426.0L1294.1 434.3L1294.7 398.3L1295.3 428.8L1295.8 417.5L1296.4 419.8L1296.9 414.4L1297.5 426.4L1298.1 437.1L1298.6 402.5L1299.2 422.7L1299.7 420.5L1300.3 419.5L1300.9 407.0L1301.4 412.9L1302.0 408.2L1302.5 412.4L1303.1 420.4L1303.7 419.3L1304.2 431.1L1304.8 445.4L1305.3 425.4L1305.9 435.4L1306.5 392.3L1307.0 404.6L1307.6 409.3L1308.1 429.8L1308.7 399.1L1309.3 443.6L1309.8 437.9L1310.4 433.0L1310.9 435.3L1311.5 422.5L1312.1 421.9L1312.6 401.8L1313.2 412.6L1313.7 410.1L1314.3 419.6L1314.9 426.4L1315.4 432.8L1316.0 442.5L1316.5 435.0L1317.1 429.2L1317.7 415.6L1318.2 444.5L1318.8 440.6L1319.3 421.8L1319.9 436.6L1320.5 420.1L1321.0 428.8L1321.6 432.6L1322.1 439.4L1322.7 424.6L1323.3 431.9L1323.8 430.4L1324.4 430.6L1324.9 420.7L1325.5 421.1L1326.1 443.0L1326.6 424.6L1327.2 418.0L1327.7 410.4L1328.3 413.5L1328.9 420.3L1329.4 436.3L1330.0 432.0L1330.5 412.2L1331.1 431.3L1331.7 411.0L1332.2 408.1L1332.8 435.8L1333.3 418.1L1333.9 424.6L1334.5 399.4L1335.0 413.4L1335.6 429.3L1336.1 418.4L1336.7 433.9L1337.3 424.8L1337.8 420.5L1338.4 421.0L1338.9 419.0L1339.5 433.3L1340.1 444.3L1340.6 426.6L1341.2 432.8L1341.7 430.4L1342.3 396.9L1342.9 408.3L1343.4 424.1L1344.0 439.0L1344.5 437.4L1345.1 417.9L1345.7 409.6L1346.2 425.8L1346.8 420.9L1347.3 419.7L1347.9 410.3L1348.5 445.3L1349.0 421.5L1349.6 418.8L1350.1 412.6L1350.7 419.4L1351.3 437.4L1351.8 431.5L1352.4 442.9L1352.9 422.8L1353.5 423.1L1354.1 419.5L1354.6 437.2L1355.2 439.3L1355.7 408.0L1356.3 424.0L1356.9 405.6L1357.4 464.5L1358.0 443.5L1358.5 416.7L1359.1 411.6L1359.7 431.4L1360.2 448.7L1360.8 418.0L1361.3 427.3L1361.9 422.2L1362.5 457.0L1363.0 419.6L1363.6 457.2L1364.1 434.7L1364.7 413.7L1365.3 445.4L1365.8 445.6L1366.4 428.6L1366.9 403.5L1367.5 403.6L1368.1 429.5L1368.6 410.3L1369.2 415.0L1369.7 418.5L1370.3 417.2L1370.9 429.8L1371.4 411.6L1372.0 408.5L1372.5 389.1L1373.1 410.1L1373.7 449.9L1374.2 435.3L1374.8 417.3L1375.3 420.7L1375.9 443.7L1376.5 423.7L1377.0 426.6L1377.6 423.3L1378.1 424.5L1378.7 412.7L1379.3 406.7L1379.8 416.4L1380.4 438.0L1380.9 435.5L1381.5 433.6L1382.1 426.9L1382.6 431.7L1383.2 431.2L1383.7 438.3L1384.3 416.6L1384.9 418.1L1385.4 417.1L1386.0 429.6L1386.5 423.5L1387.1 439.8L1387.7 441.2L1388.2 435.8L1388.8 422.6L1389.3 431.3L1389.9 443.1L1390.5 428.6L1391.0 424.8L1391.6 427.9L1392.1 437.7L1392.7 429.1L1393.3 434.9L1393.8 433.8L1394.4 431.0L1394.9 421.1L1395.5 408.5L1396.1 411.6L1396.6 422.6L1397.2 434.7L1397.7 433.7L1398.3 433.1L1398.9 416.3L1399.4 462.5L1400.0 426.7L1400.5 453.1L1401.1 429.5L1401.7 413.7L1402.2 439.8L1402.8 455.8L1403.4 413.2L1403.9 410.5L1404.5 422.1L1405.0 412.8L1405.6 436.7L1406.2 413.0L1406.7 406.5L1407.3 418.6L1407.8 395.5L1408.4 410.3L1409.0 411.8L1409.5 433.7L1410.1 408.5L1410.6 415.6L1411.2 422.3L1411.8 408.6L1412.3 413.0L1412.9 415.0L1413.4 429.8L1414.0 414.0L1414.6 436.9L1415.1 425.4L1415.7 444.0L1416.2 444.2L1416.8 419.0L1417.4 425.3L1417.9 423.5L1418.5 417.6L1419.0 420.6L1419.6 435.3L1420.2 424.1L1420.7 425.8L1421.3 431.2L1421.8 426.5L1422.4 429.4L1423.0 432.7L1423.5 428.9L1424.1 422.1L1424.6 400.4L1425.2 434.3L1425.8 418.4L1426.3 441.6L1426.9 405.5L1427.4 428.0L1428.0 422.3L1428.6 408.8L1429.1 412.1L1429.7 441.2L1430.2 417.0L1430.8 426.1L1431.4 416.1L1431.9 421.5L1432.5 414.6L1433.0 419.8L1433.6 424.9L1434.2 409.4L1434.7 441.5L1435.3 428.4L1435.8 434.6L1436.4 425.1L1437.0 428.5L1437.5 425.2L1438.1 429.3L1438.6 429.1L1439.2 443.0L1439.8 424.0L1440.3 420.0L1440.9 430.7L1441.4 431.4L1442.0 431.3L1442.6 403.9L1443.1 421.5L1443.7 419.1L1444.2 427.3L1444.8 429.7L1445.4 434.2L1445.9 405.6L1446.5 444.0L1447.0 420.4L1447.6 424.3L1448.2 427.1L1448.7 442.7L1449.3 438.9L1449.8 412.9L1450.4 432.8L1451.0 414.4L1451.5 417.0L1452.1 418.2L1452.6 416.2L1453.2 439.6L1453.8 431.1L1454.3 417.7L1454.9 440.7L1455.4 406.3L1456.0 432.7L1456.6 427.0L1457.1 438.4L1457.7 422.1L1458.2 435.2L1458.8 429.4L1459.4 440.1L1459.9 412.6L1460.5 446.0L1461.0 421.4L1461.6 424.0L1462.2 421.6L1462.7 438.8L1463.3 414.6L1463.8 415.4L1464.4 424.9L1465.0 393.5L1465.5 428.5L1466.1 419.1L1466.6 436.3L1467.2 420.0L1467.8 421.7L1468.3 443.0L1468.9 457.3L1469.4 427.6L1470.0 428.1" fill="none" stroke="#0000ff" stroke-width="7.0" stroke-linejoin="bevel" stroke-linecap="butt"/>
<path d="M123.8 925.1L124.4 932.4L124.9 931.2L125.5 952.1L126.0 908.5L126.6 915.3L127.2 930.5L127.7 919.2L128.3 924.4L128.8 933.2L129.4 917.5L130.0 931.0L130.5 931.3L131.1 936.3L131.6 923.6L132.2 929.5L132.8 923.1L133.3 935.1L133.9 927.7L134.4 938.4L135.0 920.7L135.6 927.5L136.1 926.1L136.7 925.3L137.2 940.0L137.8 921.5L138.4 908.3L138.9 946.3L139.5 947.1L140.0 944.7L140.6 920.3L141.1 927.5L141.7 917.5L142.3 920.9L142.8 925.9L143.4 924.9L143.9 929.3L144.5 918.4L145.1 938.7L145.6 931.1L146.2 924.0L146.7 907.7L147.3 933.9L147.9 937.0L148.4 931.5L149.0 915.5L149.5 927.8L150.1 911.6L150.7 944.4L151.2 957.5L151.8 914.2L152.3 939.5L152.9 923.2L153.5 912.2L154.0 923.9L154.6 914.5L155.1 900.3L155.7 922.0L156.3 927.7L156.8 932.8L157.4 918.3L157.9 927.1L158.5 927.0L159.1 926.3L159.6 918.7L160.2 936.5L160.7 941.4L161.3 950.9L161.9 913.7L162.4 925.4L163.0 910.9L163.5 926.7L164.1 934.5L164.7 922.2L165.2 928.2L165.8 940.6L166.3 937.1L166.9 910.0L167.5 924.9L168.0 924.5L168.6 931.9L169.1 936.4L169.7 920.4L170.3 930.9L170.8 937.9L171.4 931.7L171.9 939.8L172.5 928.7L173.1 919.2L173.6 939.5L174.2 916.3L174.7 938.0L175.3 929.6L175.8 939.8L176.4 933.4L177.0 930.6L177.5 935.6L178.1 938.2L178.6 937.9L179.2 939.2L179.8 946.8L180.3 933.2L180.9 926.2L181.4 920.8L182.0 923.3L182.6 904.4L183.1 926.3L183.7 934.0L184.2 909.8L184.8 939.7L185.4 918.7L185.9 938.2L186.5 924.5L187.0 948.2L187.6 918.4L188.2 929.1L188.7 937.2L189.3 909.7L189.8 918.9L190.4 926.1L191.0 934.1L191.5 926.6L192.1 927.7L192.6 918.3L193.2 917.4L193.8 932.3L194.3 930.9L194.9 930.6L195.4 938.8L196.0 930.8L196.6 925.5L197.1 917.3L197.7 910.6L198.2 932.3L198.8 918.1L199.4 928.1L199.9 901.9L200.5 923.5L201.0 917.4L201.6 931.8L202.2 930.0L202.7 919.0L203.3 924.3L203.8 915.8L204.4 934.5L205.0 910.4L205.5 925.1L206.1 896.6L206.6 915.5L207.2 899.2L207.8 922.6L208.3 901.4L208.9 912.3L209.4 905.4L210.0 897.1L210.5 897.6L211.1 888.7L211.7 880.8L212.2 879.2L212.8 884.6L213.3 896.1L213.9 889.3L214.5 882.8L215.0 903.1L215.6 874.8L216.1 886.9L216.7 889.5L217.3 879.9L217.8 885.8L218.4 893.6L218.9 909.3L219.5 898.9L220.1 901.5L220.6 917.0L221.2 899.8L221.7 907.7L222.3 935.4L222.9 915.9L223.4 932.0L224.0 908.8L224.5 913.6L225.1 934.5L225.7 933.3L226.2 924.0L226.8 928.3L227.3 910.8L227.9 919.5L228.5 930.5L229.0 922.0L229.6 949.2L230.1 925.3L230.7 919.8L231.3 930.7L231.8 936.2L232.4 923.1L232.9 908.7L233.5 926.7L234.1 940.2L234.6 913.6L235.2 947.7L235.7 922.9L236.3 933.8L236.9 917.9L237.4 936.0L238.0 913.2L238.5 923.5L239.1 944.0L239.7 946.2L240.2 928.8L240.8 911.9L241.3 923.6L241.9 923.9L242.4 926.8L243.0 916.5L243.6 920.1L244.1 920.9L244.7 933.8L245.2 911.4L245.8 909.6L246.4 937.0L246.9 900.0L247.5 916.3L248.0 929.0L248.6 943.7L249.2 917.5L249.7 918.8L250.3 930.9L250.8 943.5L251.4 913.8L252.0 931.8L252.5 930.9L253.1 897.0L253.6 904.8L254.2 917.2L254.8 932.0L255.3 920.9L255.9 951.4L256.4 927.1L257.0 936.3L257.6 941.9L258.1 945.2L258.7 923.7L259.2 928.3L259.8 927.7L260.4 920.8L260.9 938.2L261.5 942.3L262.0 947.9L262.6 933.0L263.2 921.7L263.7 931.0L264.3 922.8L264.8 941.4L265.4 933.9L266.0 936.8L266.5 941.6L267.1 909.3L267.6 919.5L268.2 935.9L268.8 935.7L269.3 928.1L269.9 942.1L270.4 922.6L271.0 940.1L271.6 930.4L272.1 936.9L272.7 931.1L273.2 939.7L273.8 942.0L274.4 935.7L274.9 932.6L275.5 928.6L276.0 924.8L276.6 909.7L277.1 917.1L277.7 928.1L278.3 898.5L278.8 932.7L279.4 910.7L279.9 920.0L280.5 939.8L281.1 918.1L281.6 917.6L282.2 953.7L282.7 933.9L283.3 931.1L283.9 946.2L284.4 950.5L285.0 936.2L285.5 921.3L286.1 923.4L286.7 899.5L287.2 930.6L287.8 914.7L288.3 925.7L288.9 923.7L289.5 938.4L290.0 946.1L290.6 934.2L291.1 918.4L291.7 909.9L292.3 919.9L292.8 920.9L293.4 934.6L293.9 910.1L294.5 911.9L295.1 931.2L295.6 926.1L296.2 935.8L296.7 910.3L297.3 921.2L297.9 926.3L298.4 921.0L299.0 920.6L299.5 929.2L300.1 937.7L300.7 938.0L301.2 942.6L301.8 919.9L302.3 901.7L302.9 941.9L303.5 923.0L304.0 920.1L304.6 934.4L305.1 922.1L305.7 935.5L306.3 911.8L306.8 930.3L307.4 923.1L307.9 917.2L308.5 928.7L309.0 942.8L309.6 929.9L310.2 916.7L310.7 925.5L311.3 922.4L311.8 936.0L312.4 923.6L313.0 917.7L313.5 925.0L314.1 905.8L314.6 927.7L315.2 936.5L315.8 942.5L316.3 914.1L316.9 926.6L317.4 915.7L318.0 921.4L318.6 909.4L319.1 913.2L319.7 930.1L320.2 923.4L320.8 915.0L321.4 938.9L321.9 911.2L322.5 913.6L323.0 916.0L323.6 928.2L324.2 923.0L324.7 937.6L325.3 925.5L325.8 932.2L326.4 925.3L327.0 931.4L327.5 923.4L328.1 914.3L328.6 940.1L329.2 917.2L329.8 959.5L330.3 949.4L330.9 928.5L331.4 927.4L332.0 923.2L332.6 944.9L333.1 928.8L333.7 927.1L334.2 915.7L334.8 929.9L335.4 923.6L335.9 939.3L336.5 931.3L337.0 934.1L337.6 922.5L338.2 940.0L338.7 938.5L339.3 924.1L339.8 911.7L340.4 926.2L341.0 927.0L341.5 933.7L342.1 918.9L342.6 924.6L343.2 912.2L343.7 926.6L344.3 939.7L344.9 935.7L345.4 939.8L346.0 942.4L346.5 916.4L347.1 920.9L347.7 941.8L348.2 910.5L348.8 926.1L349.3 938.2L349.9 924.2L350.5 928.7L351.0 935.7L351.6 947.5L352.1 926.9L352.7 924.1L353.3 953.4L353.8 921.0L354.4 920.2L354.9 931.2L355.5 925.1L356.1 929.1L356.6 934.7L357.2 929.8L357.7 912.1L358.3 941.0L358.9 923.7L359.4 924.3L360.0 933.6L360.5 931.0L361.1 941.0L361.7 935.6L362.2 926.9L362.8 923.9L363.3 936.8L363.9 896.3L364.5 933.9L365.0 927.0L365.6 931.0L366.1 933.1L366.7 915.8L367.3 934.5L367.8 916.1L368.4 918.3L368.9 941.2L369.5 920.0L370.1 937.6L370.6 902.9L371.2 935.3L371.7 941.3L372.3 951.4L372.9 945.3L373.4 938.1L374.0 942.6L374.5 945.1L375.1 939.8L375.6 934.9L376.2 918.0L376.8 950.5L377.3 938.8L377.9 943.1L378.4 948.9L379.0 897.5L379.6 942.8L380.1 926.2L380.7 935.6L381.2 939.2L381.8 927.4L382.4 930.9L382.9 936.1L383.5 929.8L384.0 942.3L384.6 927.2L385.2 928.8L385.7 937.8L386.3 946.1L386.8 962.5L387.4 932.3L388.0 901.8L388.5 939.8L389.1 924.1L389.6 937.2L390.2 930.0L390.8 923.8L391.3 940.4L391.9 933.0L392.4 930.1L393.0 930.3L393.6 925.1L394.1 920.4L394.7 922.1L395.2 927.7L395.8 933.6L396.4 941.4L396.9 937.0L397.5 934.5L398.0 921.7L398.6 932.2L399.2 940.9L399.7 921.3L400.3 935.8L400.8 935.1L401.4 929.3L402.0 921.8L402.5 951.3L403.1 937.8L403.6 924.3L404.2 929.8L404.8 934.8L405.3 931.4L405.9 911.6L406.4 930.6L407.0 918.6L407.6 917.9L408.1 930.8L408.7 921.7L409.2 931.1L409.8 933.0L410.3 938.5L410.9 918.1L411.5 931.5L412.0 933.3L412.6 939.5L413.1 909.6L413.7 920.8L414.3 930.1L414.8 936.1L415.4 945.0L415.9 926.4L416.5 926.7L417.1 944.3L417.6 918.1L418.2 922.2L418.7 940.2L419.3 936.2L419.9 934.9L420.4 928.9L421.0 932.1L421.5 947.5L422.1 915.4L422.7 927.3L423.2 917.5L423.8 917.4L424.3 932.3L424.9 926.4L425.5 922.1L426.0 921.5L426.6 930.8L427.1 935.1L427.7 928.0L428.3 936.2L428.8 933.2L429.4 947.9L429.9 925.7L430.5 936.6L431.1 931.2L431.6 925.6L432.2 921.3L432.7 904.5L433.3 921.4L433.9 937.6L434.4 921.2L435.0 928.2L435.5 917.5L436.1 928.3L436.7 928.2L437.2 925.9L437.8 926.8L438.3 938.9L438.9 926.7L439.5 919.8L440.0 907.2L440.6 922.5L441.1 923.3L441.7 913.5L442.3 913.9L442.8 903.1L443.4 913.7L443.9 920.0L444.5 906.2L445.0 904.5L445.6 925.4L446.2 919.2L446.7 938.4L447.3 925.2L447.8 930.9L448.4 924.4L449.0 927.6L449.5 924.7L450.1 924.4L450.6 918.7L451.2 921.8L451.8 930.3L452.3 938.2L452.9 912.6L453.4 911.0L454.0 930.6L454.6 920.4L455.1 942.1L455.7 942.7L456.2 929.6L456.8 911.8L457.4 937.8L457.9 935.7L458.5 910.5L459.0 946.6L459.6 920.4L460.2 921.9L460.7 928.9L461.3 924.7L461.8 899.4L462.4 937.8L463.0 929.2L463.5 928.1L464.1 932.4L464.6 938.8L465.2 908.1L465.8 921.8L466.3 941.7L466.9 930.4L467.4 918.4L468.0 917.8L468.6 936.2L469.1 921.7L469.7 917.3L470.2 915.2L470.8 914.4L471.4 936.4L471.9 897.7L472.5 913.6L473.0 896.2L473.6 884.2L474.2 914.2L474.7 924.0L475.3 901.0L475.8 910.1L476.4 911.2L476.9 915.2L477.5 884.9L478.1 904.3L478.6 911.3L479.2 898.1L479.7 901.7L480.3 883.8L480.9 884.8L481.4 885.9L482.0 862.7L482.5 868.7L483.1 847.3L483.7 833.9L484.2 842.5L484.8 837.3L485.3 820.9L485.9 806.9L486.5 810.7L487.0 805.8L487.6 806.5L488.1 804.5L488.7 805.0L489.3 824.3L489.8 828.9L490.4 831.2L490.9 846.5L491.5 846.2L492.1 849.7L492.6 862.6L493.2 875.2L493.7 883.0L494.3 862.4L494.9 876.2L495.4 901.1L496.0 902.1L496.5 877.6L497.1 884.4L497.7 901.4L498.2 893.1L498.8 922.5L499.3 909.1L499.9 903.2L500.5 931.6L501.0 921.9L501.6 907.0L502.1 904.6L502.7 923.4L503.3 915.3L503.8 902.6L504.4 923.8L504.9 934.4L505.5 921.9L506.1 925.9L506.6 909.0L507.2 921.3L507.7 931.6L508.3 899.0L508.9 929.3L509.4 919.6L510.0 917.8L510.5 917.0L511.1 923.6L511.6 919.5L512.2 926.5L512.8 940.7L513.3 928.5L513.9 928.5L514.4 928.4L515.0 925.4L515.6 933.4L516.1 913.4L516.7 911.1L517.2 950.0L517.8 927.4L518.4 934.9L518.9 954.5L519.5 923.6L520.0 934.3L520.6 931.9L521.2 934.8L521.7 917.0L522.3 915.5L522.8 925.5L523.4 921.3L524.0 929.7L524.5 927.2L525.1 936.4L525.6 928.5L526.2 936.3L526.8 925.1L527.3 920.5L527.9 925.9L528.4 916.9L529.0 901.4L529.6 950.8L530.1 928.9L530.7 934.8L531.2 933.5L531.8 942.6L532.4 927.9L532.9 930.9L533.5 934.5L534.0 930.3L534.6 933.4L535.2 951.1L535.7 915.5L536.3 929.2L536.8 935.4L537.4 922.0L538.0 931.5L538.5 946.6L539.1 914.6L539.6 940.5L540.2 925.0L540.8 921.1L541.3 908.0L541.9 909.3L542.4 919.4L543.0 928.7L543.5 924.8L544.1 909.0L544.7 901.6L545.2 914.2L545.8 926.3L546.3 908.9L546.9 923.3L547.5 923.6L548.0 922.3L548.6 913.4L549.1 916.6L549.7 909.3L550.3 906.3L550.8 914.4L551.4 943.8L551.9 937.4L552.5 918.4L553.1 920.8L553.6 898.0L554.2 920.7L554.7 922.0L555.3 910.8L555.9 909.6L556.4 923.0L557.0 915.7L557.5 932.3L558.1 930.3L558.7 907.9L559.2 935.1L559.8 911.1L560.3 913.5L560.9 912.5L561.5 911.0L562.0 914.6L562.6 942.4L563.1 930.7L563.7 926.5L564.3 910.9L564.8 931.9L565.4 927.6L565.9 924.1L566.5 906.9L567.1 935.4L567.6 934.6L568.2 914.3L568.7 942.8L569.3 917.6L569.9 925.9L570.4 937.6L571.0 925.9L571.5 932.1L572.1 920.2L572.7 918.4L573.2 907.0L573.8 922.6L574.3 921.5L574.9 928.6L575.5 923.0L576.0 912.0L576.6 942.6L577.1 916.0L577.7 928.2L578.2 921.8L578.8 919.0L579.4 913.4L579.9 919.5L580.5 925.7L581.0 918.1L581.6 920.8L582.2 922.5L582.7 917.9L583.3 910.4L583.8 917.4L584.4 916.7L585.0 930.9L585.5 918.2L586.1 935.3L586.6 908.0L587.2 924.3L587.8 900.5L588.3 882.1L588.9 916.1L589.4 897.4L590.0 905.9L590.6 914.7L591.1 916.6L591.7 901.0L592.2 891.2L592.8 900.7L593.4 918.6L593.9 912.5L594.5 902.6L595.0 884.8L595.6 894.3L596.2 892.1L596.7 881.2L597.3 893.9L597.8 890.6L598.4 889.3L599.0 903.3L599.5 877.5L600.1 875.1L600.6 865.9L601.2 884.4L601.8 876.3L602.3 853.3L602.9 854.0L603.4 836.5L604.0 851.9L604.6 832.1L605.1 830.8L605.7 808.6L606.2 803.0L606.8 776.6L607.4 753.0L607.9 736.9L608.5 740.1L609.0 687.5L609.6 666.9L610.2 656.1L610.7 629.1L611.3 597.4L611.8 574.1L612.4 574.1L612.9 584.3L613.5 571.5L614.1 587.4L614.6 584.7L615.2 647.6L615.7 634.6L616.3 668.9L616.9 709.0L617.4 718.5L618.0 756.0L618.5 766.2L619.1 800.8L619.7 807.3L620.2 831.5L620.8 848.4L621.3 844.6L621.9 856.8L622.5 851.2L623.0 850.0L623.6 870.1L624.1 872.2L624.7 874.8L625.3 897.4L625.8 880.4L626.4 885.7L626.9 888.7L627.5 901.7L628.1 912.7L628.6 896.6L629.2 892.3L629.7 883.2L630.3 886.7L630.9 884.6L631.4 896.9L632.0 889.9L632.5 904.9L633.1 897.2L633.7 894.8L634.2 877.5L634.8 903.4L635.3 919.6L635.9 892.8L636.5 915.7L637.0 908.6L637.6 911.3L638.1 917.9L638.7 895.1L639.3 902.8L639.8 915.3L640.4 908.3L640.9 913.4L641.5 902.5L642.1 912.5L642.6 916.2L643.2 914.5L643.7 911.9L644.3 903.9L644.8 915.8L645.4 906.7L646.0 900.6L646.5 880.5L647.1 895.2L647.6 934.4L648.2 908.7L648.8 907.4L649.3 900.2L649.9 887.7L650.4 896.9L651.0 929.1L651.6 903.1L652.1 906.2L652.7 904.2L653.2 895.7L653.8 922.1L654.4 900.6L654.9 930.1L655.5 913.6L656.0 911.2L656.6 892.5L657.2 924.1L657.7 935.2L658.3 911.4L658.8 926.1L659.4 903.9L660.0 928.0L660.5 952.5L661.1 909.1L661.6 921.7L662.2 912.8L662.8 938.5L663.3 907.3L663.9 930.9L664.4 917.0L665.0 936.3L665.6 942.4L666.1 929.6L666.7 925.6L667.2 911.6L667.8 924.6L668.4 921.2L668.9 922.1L669.5 897.1L670.0 937.8L670.6 916.6L671.2 931.2L671.7 927.0L672.3 935.3L672.8 917.6L673.4 942.4L674.0 943.0L674.5 931.3L675.1 940.8L675.6 921.4L676.2 918.8L676.8 935.7L677.3 919.5L677.9 934.0L678.4 927.3L679.0 926.4L679.5 906.7L680.1 925.7L680.7 934.7L681.2 934.5L681.8 912.3L682.3 941.6L682.9 929.0L683.5 927.8L684.0 948.9L684.6 928.3L685.1 913.0L685.7 920.8L686.3 932.3L686.8 915.8L687.4 917.5L687.9 901.9L688.5 930.3L689.1 926.6L689.6 922.1L690.2 923.9L690.7 921.5L691.3 923.5L691.9 929.5L692.4 938.8L693.0 928.0L693.5 936.6L694.1 933.0L694.7 927.7L695.2 916.9L695.8 913.3L696.3 932.7L696.9 918.8L697.5 913.7L698.0 922.4L698.6 938.9L699.1 944.2L699.7 913.8L700.3 912.6L700.8 919.2L701.4 933.0L701.9 907.2L702.5 909.8L703.1 922.8L703.6 924.7L704.2 942.7L704.7 914.9L705.3 939.4L705.9 915.9L706.4 915.6L707.0 922.2L707.5 907.1L708.1 926.8L708.7 917.5L709.2 915.6L709.8 921.4L710.3 928.4L710.9 911.5L711.4 920.0L712.0 926.5L712.6 926.4L713.1 923.5L713.7 901.5L714.2 924.1L714.8 927.8L715.4 936.4L715.9 938.2L716.5 945.3L717.0 923.5L717.6 925.7L718.2 936.7L718.7 941.5L719.3 929.7L719.8 931.8L720.4 940.2L721.0 923.3L721.5 925.0L722.1 926.9L722.6 918.4L723.2 933.0L723.8 912.2L724.3 936.6L724.9 920.7L725.4 919.3L726.0 928.4L726.6 921.9L727.1 938.6L727.7 940.7L728.2 927.1L728.8 932.4L729.4 918.6L729.9 924.2L730.5 918.0L731.0 921.0L731.6 922.1L732.2 923.1L732.7 927.8L733.3 928.7L733.8 902.9L734.4 941.9L735.0 925.7L735.5 913.4L736.1 919.4L736.6 909.2L737.2 918.0L737.8 936.7L738.3 927.1L738.9 938.2L739.4 913.6L740.0 908.9L740.6 928.3L741.1 918.2L741.7 928.1L742.2 938.7L742.8 928.5L743.4 940.2L743.9 929.8L744.5 921.8L745.0 916.6L745.6 910.7L746.1 927.6L746.7 921.8L747.3 920.0L747.8 918.7L748.4 953.9L748.9 932.7L749.5 916.6L750.1 936.5L750.6 922.5L751.2 916.7L751.7 945.0L752.3 927.6L752.9 923.4L753.4 925.9L754.0 942.0L754.5 922.9L755.1 932.5L755.7 918.4L756.2 922.7L756.8 933.0L757.3 925.7L757.9 934.8L758.5 935.1L759.0 944.3L759.6 930.6L760.1 919.9L760.7 927.1L761.3 928.6L761.8 934.9L762.4 933.8L762.9 920.7L763.5 943.7L764.1 906.9L764.6 928.7L765.2 905.5L765.7 915.5L766.3 895.5L766.9 919.5L767.4 924.2L768.0 921.7L768.5 917.9L769.1 931.4L769.7 931.7L770.2 929.2L770.8 938.4L771.3 926.5L771.9 920.9L772.5 920.0L773.0 919.9L773.6 925.2L774.1 912.2L774.7 940.6L775.3 922.6L775.8 920.8L776.4 907.0L776.9 908.0L777.5 905.2L778.1 911.7L778.6 900.3L779.2 918.6L779.7 905.5L780.3 925.9L780.8 884.2L781.4 883.0L782.0 903.0L782.5 902.9L783.1 913.0L783.6 904.4L784.2 884.5L784.8 884.5L785.3 895.3L785.9 882.5L786.4 881.5L787.0 867.4L787.6 862.6L788.1 870.2L788.7 865.1L789.2 865.0L789.8 885.6L790.4 861.7L790.9 864.1L791.5 856.1L792.0 883.5L792.6 857.9L793.2 873.8L793.7 866.3L794.3 858.6L794.8 888.5L795.4 889.2L796.0 867.9L796.5 892.4L797.1 893.1L797.6 879.6L798.2 890.4L798.8 882.8L799.3 890.1L799.9 895.7L800.4 887.5L801.0 877.2L801.6 902.7L802.1 888.3L802.7 893.6L803.2 905.8L803.8 903.7L804.4 919.4L804.9 917.4L805.5 909.4L806.0 913.9L806.6 901.0L807.2 928.7L807.7 919.2L808.3 923.6L808.8 919.4L809.4 906.6L810.0 931.7L810.5 911.1L811.1 926.6L811.6 924.5L812.2 911.4L812.7 925.2L813.3 915.9L813.9 922.1L814.4 925.5L815.0 927.9L815.5 942.5L816.1 932.7L816.7 923.6L817.2 923.6L817.8 941.3L818.3 894.0L818.9 920.5L819.5 940.0L820.0 937.4L820.6 921.5L821.1 944.9L821.7 934.5L822.3 927.3L822.8 928.0L823.4 927.2L823.9 922.5L824.5 934.6L825.1 931.2L825.6 904.8L826.2 940.3L826.7 930.2L827.3 924.3L827.9 931.9L828.4 912.5L829.0 924.1L829.5 916.9L830.1 951.6L830.7 912.3L831.2 912.6L831.8 932.2L832.3 910.9L832.9 921.6L833.5 914.8L834.0 905.7L834.6 923.4L835.1 935.0L835.7 924.7L836.3 937.9L836.8 933.1L837.4 932.8L837.9 932.4L838.5 913.2L839.1 916.7L839.6 934.7L840.2 913.9L840.7 942.9L841.3 932.5L841.9 927.2L842.4 913.6L843.0 918.4L843.5 921.3L844.1 912.6L844.7 918.6L845.2 912.0L845.8 934.2L846.3 943.5L846.9 930.5L847.4 917.6L848.0 923.5L848.6 917.1L849.1 919.0L849.7 921.1L850.2 918.1L850.8 934.0L851.4 915.4L851.9 937.1L852.5 928.1L853.0 941.6L853.6 921.9L854.2 943.2L854.7 912.8L855.3 941.3L855.8 924.8L856.4 929.0L857.0 936.7L857.5 914.8L858.1 932.2L858.6 912.7L859.2 938.4L859.8 936.1L860.3 948.4L860.9 922.1L861.4 918.3L862.0 925.5L862.6 929.4L863.1 937.2L863.7 903.5L864.2 920.0L864.8 946.7L865.4 930.8L865.9 954.5L866.5 911.3L867.0 907.2L867.6 912.5L868.2 928.2L868.7 933.7L869.3 942.1L869.8 922.2L870.4 935.3L871.0 931.5L871.5 934.3L872.1 930.8L872.6 918.4L873.2 910.2L873.8 926.0L874.3 927.4L874.9 939.0L875.4 940.2L876.0 938.4L876.6 918.3L877.1 924.9L877.7 917.4L878.2 923.0L878.8 931.6L879.3 940.3L879.9 931.2L880.5 942.2L881.0 906.8L881.6 924.8L882.1 931.4L882.7 907.1L883.3 931.7L883.8 922.1L884.4 929.6L884.9 924.3L885.5 931.9L886.1 923.1L886.6 913.4L887.2 941.4L887.7 951.4L888.3 914.3L888.9 926.6L889.4 919.3L890.0 931.3L890.5 896.5L891.1 909.3L891.7 940.3L892.2 921.1L892.8 934.3L893.3 944.7L893.9 930.9L894.5 921.8L895.0 941.8L895.6 940.8L896.1 914.5L896.7 926.8L897.3 922.8L897.8 938.8L898.4 933.6L898.9 925.4L899.5 924.6L900.1 925.0L900.6 909.9L901.2 924.6L901.7 942.3L902.3 935.4L902.9 926.9L903.4 913.0L904.0 933.5L904.5 930.4L905.1 926.7L905.7 933.8L906.2 935.1L906.8 929.0L907.3 916.3L907.9 921.7L908.5 929.7L909.0 922.6L909.6 940.2L910.1 916.4L910.7 919.1L911.3 923.6L911.8 943.7L912.4 905.4L912.9 956.9L913.5 936.7L914.0 935.8L914.6 918.7L915.2 941.4L915.7 923.1L916.3 926.9L916.8 928.1L917.4 915.9L918.0 909.7L918.5 920.1L919.1 926.9L919.6 947.5L920.2 908.2L920.8 926.5L921.3 942.5L921.9 921.3L922.4 907.8L923.0 924.2L923.6 934.9L924.1 899.2L924.7 916.2L925.2 919.1L925.8 912.1L926.4 945.4L926.9 923.6L927.5 924.8L928.0 899.6L928.6 929.3L929.2 929.5L929.7 938.4L930.3 932.8L930.8 926.7L931.4 922.1L932.0 927.2L932.5 904.6L933.1 920.7L933.6 919.5L934.2 912.2L934.8 920.2L935.3 932.5L935.9 943.5L936.4 924.0L937.0 936.7L937.6 914.5L938.1 936.5L938.7 952.0L939.2 928.5L939.8 918.0L940.4 931.5L940.9 927.6L941.5 928.1L942.0 911.8L942.6 926.8L943.2 930.5L943.7 936.6L944.3 947.4L944.8 915.6L945.4 918.4L946.0 940.4L946.5 924.2L947.1 927.2L947.6 934.6L948.2 933.9L948.7 922.8L949.3 943.4L949.9 936.2L950.4 931.6L951.0 930.9L951.5 933.1L952.1 928.6L952.7 925.4L953.2 940.3L953.8 930.1L954.3 936.5L954.9 915.2L955.5 945.6L956.0 933.3L956.6 923.5L957.1 933.7L957.7 934.1L958.3 936.1L958.8 927.0L959.4 942.3L959.9 930.7L960.5 930.6L961.1 944.6L961.6 926.1L962.2 933.4L962.7 924.9L963.3 918.6L963.9 923.6L964.4 939.0L965.0 922.7L965.5 942.3L966.1 933.0L966.7 907.0L967.2 923.9L967.8 907.1L968.3 924.8L968.9 922.3L969.5 933.6L970.0 911.7L970.6 923.2L971.1 914.3L971.7 916.0L972.3 914.7L972.8 916.8L973.4 920.5L973.9 920.1L974.5 927.3L975.1 942.4L975.6 915.3L976.2 898.9L976.7 909.6L977.3 896.8L977.9 916.5L978.4 932.0L979.0 932.6L979.5 915.0L980.1 919.7L980.6 925.4L981.2 916.4L981.8 933.7L982.3 919.5L982.9 928.3L983.4 924.1L984.0 913.6L984.6 927.8L985.1 912.2L985.7 912.9L986.2 934.8L986.8 902.8L987.4 940.0L987.9 928.2L988.5 919.4L989.0 950.9L989.6 916.2L990.2 915.0L990.7 927.9L991.3 923.7L991.8 924.1L992.4 928.3L993.0 914.7L993.5 929.6L994.1 925.9L994.6 921.4L995.2 916.0L995.8 913.1L996.3 939.8L996.9 945.3L997.4 925.2L998.0 924.1L998.6 934.6L999.1 919.8L999.7 916.2L1000.2 918.5L1000.8 905.1L1001.4 932.9L1001.9 921.6L1002.5 901.6L1003.0 914.4L1003.6 933.0L1004.2 919.1L1004.7 908.8L1005.3 899.2L1005.8 913.9L1006.4 908.6L1007.0 932.3L1007.5 923.2L1008.1 908.0L1008.6 930.4L1009.2 920.9L1009.8 939.7L1010.3 904.6L1010.9 921.3L1011.4 913.9L1012.0 935.4L1012.6 933.2L1013.1 900.4L1013.7 922.7L1014.2 924.6L1014.8 913.4L1015.3 912.7L1015.9 938.7L1016.5 928.2L1017.0 917.1L1017.6 917.3L1018.1 913.4L1018.7 921.2L1019.3 919.3L1019.8 913.8L1020.4 922.9L1020.9 924.0L1021.5 920.6L1022.1 914.4L1022.6 915.7L1023.2 918.7L1023.7 915.9L1024.3 913.3L1024.9 909.0L1025.4 908.2L1026.0 924.9L1026.5 900.9L1027.1 927.3L1027.7 904.4L1028.2 917.0L1028.8 903.2L1029.3 897.7L1029.9 927.9L1030.5 901.6L1031.0 904.7L1031.6 912.0L1032.1 902.8L1032.7 911.6L1033.3 905.0L1033.8 917.0L1034.4 897.7L1034.9 899.7L1035.5 898.0L1036.1 912.6L1036.6 886.8L1037.2 885.5L1037.7 907.2L1038.3 910.9L1038.9 911.1L1039.4 900.1L1040.0 896.9L1040.5 915.8L1041.1 929.6L1041.7 904.3L1042.2 910.0L1042.8 908.3L1043.3 905.3L1043.9 922.8L1044.5 911.2L1045.0 915.5L1045.6 909.1L1046.1 900.9L1046.7 914.2L1047.2 923.6L1047.8 902.4L1048.4 908.5L1048.9 918.4L1049.5 935.5L1050.0 926.4L1050.6 916.2L1051.2 912.4L1051.7 923.9L1052.3 914.2L1052.8 925.6L1053.4 923.7L1054.0 914.0L1054.5 922.6L1055.1 918.5L1055.6 911.0L1056.2 908.5L1056.8 926.4L1057.3 923.0L1057.9 934.1L1058.4 933.9L1059.0 917.3L1059.6 925.8L1060.1 939.5L1060.7 914.8L1061.2 928.9L1061.8 923.3L1062.4 915.7L1062.9 915.7L1063.5 920.3L1064.0 940.1L1064.6 913.4L1065.2 925.2L1065.7 933.4L1066.3 941.4L1066.8 904.6L1067.4 916.5L1068.0 916.5L1068.5 911.0L1069.1 917.7L1069.6 931.8L1070.2 909.2L1070.8 905.5L1071.3 910.2L1071.9 899.3L1072.4 895.1L1073.0 922.7L1073.6 918.7L1074.1 904.7L1074.7 911.8L1075.2 911.2L1075.8 903.5L1076.4 905.4L1076.9 917.4L1077.5 911.5L1078.0 920.1L1078.6 914.7L1079.2 924.2L1079.7 933.1L1080.3 918.0L1080.8 919.1L1081.4 903.9L1081.9 897.1L1082.5 913.2L1083.1 908.8L1083.6 920.5L1084.2 923.7L1084.7 917.3L1085.3 917.6L1085.9 911.8L1086.4 913.9L1087.0 898.2L1087.5 917.6L1088.1 932.6L1088.7 914.5L1089.2 922.6L1089.8 913.8L1090.3 904.4L1090.9 922.6L1091.5 916.8L1092.0 910.6L1092.6 925.7L1093.1 913.6L1093.7 910.1L1094.3 907.2L1094.8 904.2L1095.4 909.6L1095.9 911.1L1096.5 929.3L1097.1 942.3L1097.6 924.5L1098.2 899.7L1098.7 912.9L1099.3 937.1L1099.9 918.0L1100.4 909.7L1101.0 932.2L1101.5 907.0L1102.1 924.5L1102.7 901.7L1103.2 911.8L1103.8 879.9L1104.3 925.2L1104.9 908.2L1105.5 925.9L1106.0 898.4L1106.6 908.4L1107.1 899.7L1107.7 907.4L1108.3 919.8L1108.8 913.6L1109.4 918.6L1109.9 915.5L1110.5 902.0L1111.1 891.0L1111.6 891.4L1112.2 892.9L1112.7 901.7L1113.3 887.9L1113.9 898.9L1114.4 884.5L1115.0 874.1L1115.5 880.3L1116.1 878.4L1116.6 872.7L1117.2 856.4L1117.8 860.2L1118.3 865.9L1118.9 850.3L1119.4 852.4L1120.0 822.8L1120.6 836.4L1121.1 851.8L1121.7 835.8L1122.2 834.6L1122.8 842.7L1123.4 855.6L1123.9 856.0L1124.5 860.3L1125.0 858.2L1125.6 869.9L1126.2 855.0L1126.7 884.6L1127.3 870.5L1127.8 889.3L1128.4 909.8L1129.0 906.9L1129.5 915.7L1130.1 916.5L1130.6 888.2L1131.2 908.7L1131.8 896.9L1132.3 913.3L1132.9 905.3L1133.4 916.8L1134.0 897.8L1134.6 910.0L1135.1 912.7L1135.7 910.3L1136.2 886.9L1136.8 905.2L1137.4 901.8L1137.9 923.6L1138.5 918.0L1139.0 908.8L1139.6 931.4L1140.2 899.1L1140.7 910.5L1141.3 913.9L1141.8 916.2L1142.4 917.0L1143.0 920.2L1143.5 901.2L1144.1 908.7L1144.6 903.4L1145.2 919.6L1145.8 925.8L1146.3 903.1L1146.9 929.7L1147.4 923.7L1148.0 910.3L1148.5 906.6L1149.1 931.3L1149.7 920.7L1150.2 917.7L1150.8 919.4L1151.3 926.9L1151.9 911.2L1152.5 923.5L1153.0 920.6L1153.6 941.2L1154.1 919.3L1154.7 938.1L1155.3 911.0L1155.8 913.2L1156.4 923.5L1156.9 916.7L1157.5 917.3L1158.1 920.1L1158.6 915.0L1159.2 920.1L1159.7 923.9L1160.3 927.3L1160.9 902.2L1161.4 917.6L1162.0 920.1L1162.5 912.7L1163.1 924.4L1163.7 924.6L1164.2 914.2L1164.8 910.8L1165.3 914.8L1165.9 937.2L1166.5 921.7L1167.0 922.9L1167.6 918.4L1168.1 932.4L1168.7 934.4L1169.3 925.2L1169.8 933.4L1170.4 935.4L1170.9 925.5L1171.5 915.6L1172.1 923.9L1172.6 914.0L1173.2 935.7L1173.7 918.5L1174.3 925.9L1174.9 934.8L1175.4 930.1L1176.0 934.6L1176.5 928.1L1177.1 933.4L1177.7 912.9L1178.2 929.3L1178.8 940.1L1179.3 927.5L1179.9 921.4L1180.5 928.5L1181.0 916.3L1181.6 934.2L1182.1 933.5L1182.7 908.2L1183.2 924.5L1183.8 918.9L1184.4 919.3L1184.9 918.4L1185.5 923.7L1186.0 925.9L1186.6 912.9L1187.2 928.8L1187.7 922.5L1188.3 916.7L1188.8 927.6L1189.4 939.1L1190.0 918.7L1190.5 912.4L1191.1 920.7L1191.6 940.2L1192.2 916.6L1192.8 903.1L1193.3 938.6L1193.9 950.4L1194.4 925.3L1195.0 921.9L1195.6 914.7L1196.1 914.2L1196.7 921.4L1197.2 916.7L1197.8 918.6L1198.4 920.6L1198.9 922.2L1199.5 922.9L1200.0 914.1L1200.6 916.8L1201.2 924.9L1201.7 909.3L1202.3 927.3L1202.8 922.0L1203.4 918.0L1204.0 938.1L1204.5 922.3L1205.1 909.5L1205.6 909.5L1206.2 929.3L1206.8 925.2L1207.3 927.2L1207.9 918.3L1208.4 916.1L1209.0 931.1L1209.6 911.4L1210.1 913.4L1210.7 914.4L1211.2 920.0L1211.8 914.6L1212.4 930.2L1212.9 909.6L1213.5 909.4L1214.0 912.2L1214.6 922.7L1215.1 897.7L1215.7 898.9L1216.3 928.8L1216.8 905.6L1217.4 908.0L1217.9 935.1L1218.5 904.0L1219.1 902.5L1219.6 901.7L1220.2 907.3L1220.7 915.4L1221.3 914.0L1221.9 903.8L1222.4 897.2L1223.0 913.9L1223.5 911.8L1224.1 902.1L1224.7 930.8L1225.2 904.8L1225.8 911.7L1226.3 931.4L1226.9 901.8L1227.5 918.7L1228.0 901.6L1228.6 895.7L1229.1 922.0L1229.7 921.5L1230.3 909.5L1230.8 926.8L1231.4 901.8L1231.9 907.1L1232.5 898.9L1233.1 926.8L1233.6 906.1L1234.2 903.1L1234.7 925.4L1235.3 897.9L1235.9 920.2L1236.4 903.9L1237.0 918.2L1237.5 896.4L1238.1 886.3L1238.7 901.7L1239.2 900.8L1239.8 886.7L1240.3 902.6L1240.9 895.7L1241.5 885.7L1242.0 887.1L1242.6 872.4L1243.1 872.6L1243.7 861.0L1244.3 875.6L1244.8 858.6L1245.4 871.6L1245.9 847.1L1246.5 830.6L1247.1 815.9L1247.6 842.8L1248.2 822.4L1248.7 803.9L1249.3 811.0L1249.8 789.1L1250.4 783.7L1251.0 791.2L1251.5 792.1L1252.1 799.3L1252.6 793.0L1253.2 791.2L1253.8 810.2L1254.3 794.9L1254.9 847.5L1255.4 847.8L1256.0 843.9L1256.6 870.2L1257.1 862.4L1257.7 864.2L1258.2 876.3L1258.8 885.4L1259.4 878.0L1259.9 887.1L1260.5 887.3L1261.0 891.9L1261.6 906.7L1262.2 913.1L1262.7 907.7L1263.3 903.7L1263.8 908.8L1264.4 898.6L1265.0 906.7L1265.5 900.4L1266.1 909.9L1266.6 919.1L1267.2 904.0L1267.8 908.2L1268.3 922.3L1268.9 918.5L1269.4 886.6L1270.0 949.5L1270.6 904.3L1271.1 915.6L1271.7 917.2L1272.2 920.0L1272.8 922.5L1273.4 893.7L1273.9 922.5L1274.5 921.5L1275.0 910.6L1275.6 915.2L1276.2 921.3L1276.7 922.7L1277.3 933.7L1277.8 909.5L1278.4 931.6L1279.0 945.9L1279.5 910.9L1280.1 914.3L1280.6 918.8L1281.2 928.0L1281.8 910.9L1282.3 934.4L1282.9 946.0L1283.4 922.3L1284.0 916.0L1284.5 918.2L1285.1 903.6L1285.7 916.5L1286.2 927.5L1286.8 927.3L1287.3 916.4L1287.9 926.2L1288.5 927.0L1289.0 943.7L1289.6 928.9L1290.1 939.0L1290.7 923.3L1291.3 924.3L1291.8 918.3L1292.4 907.2L1292.9 927.2L1293.5 910.5L1294.1 936.7L1294.6 923.4L1295.2 915.1L1295.7 904.7L1296.3 935.9L1296.9 927.1L1297.4 922.8L1298.0 925.2L1298.5 933.8L1299.1 940.7L1299.7 936.4L1300.2 924.6L1300.8 937.5L1301.3 905.4L1301.9 911.0L1302.5 943.2L1303.0 928.7L1303.6 910.0L1304.1 908.8L1304.7 912.2L1305.3 938.4L1305.8 927.6L1306.4 910.8L1306.9 922.9L1307.5 928.8L1308.1 919.1L1308.6 914.3L1309.2 923.1L1309.7 922.2L1310.3 913.9L1310.9 930.9L1311.4 934.6L1312.0 917.6L1312.5 937.9L1313.1 920.7L1313.7 933.5L1314.2 917.5L1314.8 938.5L1315.3 914.7L1315.9 923.6L1316.4 929.7L1317.0 935.6L1317.6 928.4L1318.1 936.3L1318.7 939.2L1319.2 915.8L1319.8 920.7L1320.4 914.1L1320.9 940.6L1321.5 946.7L1322.0 942.9L1322.6 919.7L1323.2 918.0L1323.7 945.3L1324.3 915.5L1324.8 930.4L1325.4 938.0L1326.0 926.3L1326.5 919.5L1327.1 927.4L1327.6 926.8L1328.2 933.4L1328.8 939.2L1329.3 928.3L1329.9 941.0L1330.4 917.8L1331.0 932.7L1331.6 910.2L1332.1 939.9L1332.7 908.9L1333.2 932.4L1333.8 932.4L1334.4 920.0L1334.9 913.7L1335.5 923.3L1336.0 926.5L1336.6 902.2L1337.2 917.5L1337.7 935.1L1338.3 925.4L1338.8 905.3L1339.4 919.3L1340.0 914.2L1340.5 901.8L1341.1 929.0L1341.6 919.0L1342.2 929.8L1342.8 923.0L1343.3 917.5L1343.9 936.9L1344.4 921.7L1345.0 921.8L1345.6 912.5L1346.1 929.5L1346.7 936.6L1347.2 919.5L1347.8 935.2L1348.4 921.8L1348.9 917.8L1349.5 932.8L1350.0 925.0L1350.6 934.5L1351.1 953.1L1351.7 938.8L1352.3 945.4L1352.8 923.6L1353.4 934.8L1353.9 925.2L1354.5 924.2L1355.1 912.6L1355.6 927.1L1356.2 927.7L1356.7 918.2L1357.3 906.7L1357.9 924.1L1358.4 919.8L1359.0 925.2L1359.5 930.5L1360.1 939.1L1360.7 924.0L1361.2 926.0L1361.8 925.8L1362.3 902.7L1362.9 926.7L1363.5 919.9L1364.0 926.9L1364.6 911.2L1365.1 926.4L1365.7 904.2L1366.3 926.2L1366.8 915.5L1367.4 913.0L1367.9 926.0L1368.5 914.8L1369.1 923.0L1369.6 931.5L1370.2 930.6L1370.7 920.2L1371.3 905.2L1371.9 928.7L1372.4 918.0L1373.0 931.9L1373.5 920.9L1374.1 887.5L1374.7 931.6L1375.2 923.5L1375.8 931.1L1376.3 926.1L1376.9 912.8L1377.5 924.4L1378.0 930.5L1378.6 935.7L1379.1 928.4L1379.7 910.9L1380.3 923.6L1380.8 924.2L1381.4 915.1L1381.9 913.8L1382.5 912.0L1383.0 926.0L1383.6 931.6L1384.2 939.2L1384.7 929.0L1385.3 925.6L1385.8 914.1L1386.4 918.2L1387.0 927.2L1387.5 912.1L1388.1 934.0L1388.6 931.7L1389.2 932.8L1389.8 931.7L1390.3 922.9L1390.9 928.8L1391.4 927.7L1392.0 905.8L1392.6 934.5L1393.1 929.8L1393.7 921.4L1394.2 914.1L1394.8 913.5L1395.4 921.0L1395.9 921.9L1396.5 920.7L1397.0 910.1L1397.6 927.2L1398.2 941.8L1398.7 915.6L1399.3 929.5L1399.8 918.0L1400.4 903.1L1401.0 916.4L1401.5 898.5L1402.1 933.9L1402.6 915.1L1403.2 913.6L1403.8 909.1L1404.3 925.2L1404.9 916.1L1405.4 916.5L1406.0 965.5L1406.6 932.0L1407.1 935.6L1407.7 912.3L1408.2 914.2L1408.8 917.3L1409.4 911.1L1409.9 906.5L1410.5 929.5L1411.0 909.4L1411.6 902.0L1412.2 906.7L1412.7 911.0L1413.3 909.8L1413.8 931.8L1414.4 922.0L1415.0 906.3L1415.5 901.6L1416.1 912.1L1416.6 921.5L1417.2 918.3L1417.7 908.1L1418.3 896.2L1418.9 908.9L1419.4 922.5L1420.0 910.8L1420.5 912.8L1421.1 892.7L1421.7 911.4L1422.2 917.3L1422.8 918.5L1423.3 930.5L1423.9 928.8L1424.5 922.9L1425.0 926.4L1425.6 916.2L1426.1 917.1L1426.7 908.5L1427.3 902.6L1427.8 916.6L1428.4 920.2L1428.9 937.3L1429.5 914.2L1430.1 911.3L1430.6 926.0L1431.2 922.1L1431.7 925.2L1432.3 907.1L1432.9 911.6L1433.4 905.5L1434.0 930.5L1434.5 890.8L1435.1 927.0L1435.7 928.9L1436.2 916.5L1436.8 924.4L1437.3 900.1L1437.9 923.3L1438.5 926.3L1439.0 909.5L1439.6 907.2L1440.1 928.7L1440.7 925.3L1441.3 924.4L1441.8 922.6L1442.4 903.6L1442.9 908.6L1443.5 910.8L1444.1 908.9L1444.6 922.1L1445.2 913.6L1445.7 923.5L1446.3 930.7L1446.9 905.9L1447.4 941.3L1448.0 923.3L1448.5 929.3L1449.1 940.6L1449.7 927.4L1450.2 922.8L1450.8 918.8L1451.3 881.5L1451.9 915.7L1452.4 920.2L1453.0 915.0L1453.6 943.1L1454.1 927.8L1454.7 929.5L1455.2 917.1L1455.8 930.6L1456.4 928.1L1456.9 934.6L1457.5 935.0L1458.0 932.3L1458.6 912.7L1459.2 933.5L1459.7 947.6L1460.3 919.5L1460.8 927.1L1461.4 916.7L1462.0 916.8L1462.5 925.5L1463.1 926.6L1463.6 927.9L1464.2 922.3L1464.8 930.2L1465.3 920.1L1465.9 907.9L1466.4 928.9L1467.0 928.5" fill="none" stroke="#ff0000" stroke-width="7.0" stroke-linejoin="bevel" stroke-linecap="butt"/>
<text transform="translate(175.00 162.50) rotate(-90)" text-anchor="middle" class="pl">(020)</text>
<text transform="translate(223.75 326.50) rotate(-90)" text-anchor="middle" class="pl">(001)</text>
<text transform="translate(333.90 122.75) rotate(-90)" text-anchor="middle" class="pl">(111)</text>
<text transform="translate(448.75 309.00) rotate(-90)" text-anchor="middle" class="pl">(121)</text>
<text transform="translate(503.75 324.50) rotate(-90)" text-anchor="middle" class="pl">(300)</text>
<text transform="translate(550.90 92.15) rotate(-90)" text-anchor="middle" class="pl">(221)</text>
<text transform="translate(588.75 182.50) rotate(-90)" text-anchor="middle" class="pl">(040)</text>
<text transform="translate(622.40 288.35) rotate(-90)" text-anchor="middle" class="pl">(301)</text>
<text transform="translate(673.20 319.95) rotate(-90)" text-anchor="middle" class="pl">(231)</text>
<text transform="translate(743.50 291.15) rotate(-90)" text-anchor="middle" class="pl">(050)</text>
<text transform="translate(806.85 319.95) rotate(-90)" text-anchor="middle" class="pl">(340)</text>
<text transform="translate(972.25 305.30) rotate(-90)" text-anchor="middle" class="pl">(060)</text>
<text transform="translate(1018.50 305.30) rotate(-90)" text-anchor="middle" class="pl">(142)</text>
<text transform="translate(1094.75 307.50) rotate(-90)" text-anchor="middle" class="pl">(412)</text>
<text transform="translate(1162.60 326.15) rotate(-90)" text-anchor="middle" class="pl">(450)</text>
<text transform="translate(1267.05 337.95) rotate(-90)" text-anchor="middle" class="pl">(023)</text>
<text transform="translate(216.90 812.50) rotate(-90)" text-anchor="middle" class="pl">(111)</text>
<text transform="translate(492.95 753.05) rotate(-90)" text-anchor="middle" class="pl">(220)</text>
<text transform="translate(591.80 596.20) rotate(-90)" text-anchor="middle" class="pl">(311)</text>
<text transform="translate(662.05 815.15) rotate(-90)" text-anchor="middle" class="pl">(222)</text>
<text transform="translate(792.45 799.15) rotate(-90)" text-anchor="middle" class="pl">(400)</text>
<text transform="translate(1027.10 836.85) rotate(-90)" text-anchor="middle" class="pl">(422)</text>
<text transform="translate(1123.15 765.35) rotate(-90)" text-anchor="middle" class="pl">(511)</text>
<text transform="translate(1259.15 720.05) rotate(-90)" text-anchor="middle" class="pl">(440)</text>
<text transform="translate(1423.42 102.20) scale(0.8850 1)" style="font-family:'Liberation Sans';font-weight:bold;font-size:72.5px" >a</text>
<text x="1420.73" y="596.90" style="font-family:'Liberation Sans';font-weight:bold;font-size:70.8px" >b</text>
<text x="209.61" y="1026.80" style="font-family:'Liberation Sans';font-weight:bold;font-size:55.5px" >20</text>
<text x="433.93" y="1026.80" style="font-family:'Liberation Sans';font-weight:bold;font-size:55.5px" >30</text>
<text x="658.15" y="1026.80" style="font-family:'Liberation Sans';font-weight:bold;font-size:55.5px" >40</text>
<text x="881.72" y="1026.80" style="font-family:'Liberation Sans';font-weight:bold;font-size:55.5px" >50</text>
<text x="1105.56" y="1026.80" style="font-family:'Liberation Sans';font-weight:bold;font-size:55.5px" >60</text>
<text x="1329.38" y="1026.80" style="font-family:'Liberation Sans';font-weight:bold;font-size:55.5px" >70</text>
<text transform="translate(586.77 1121.30) scale(0.8700 1)" style="font-family:'Liberation Sans';font-weight:bold;font-size:70.5px" >2</text>
<text x="624.83" y="1121.60" style="font-family:'Liberation Sans';font-weight:bold;font-style:italic;font-size:73.4px" >θ</text>
<text transform="translate(663.62 1121.20) scale(0.9000 1)" style="font-family:'Liberation Sans';font-weight:normal;font-size:69.5px" >(</text>
<text transform="translate(688.07 1121.60) scale(1.0201 1)" style="font-family:'Liberation Sans';font-weight:bold;font-size:70.0px" >degree</text>
<text transform="translate(926.03 1121.20) scale(0.9200 1)" style="font-family:'Liberation Sans';font-weight:normal;font-size:69.5px" >)</text>
<text transform="translate(75.3 738.13) rotate(-90)" style="font-family:'Liberation Serif';font-weight:bold;font-size:78.0px">Intensity (a.u.)</text>
</svg>
</body></html>
